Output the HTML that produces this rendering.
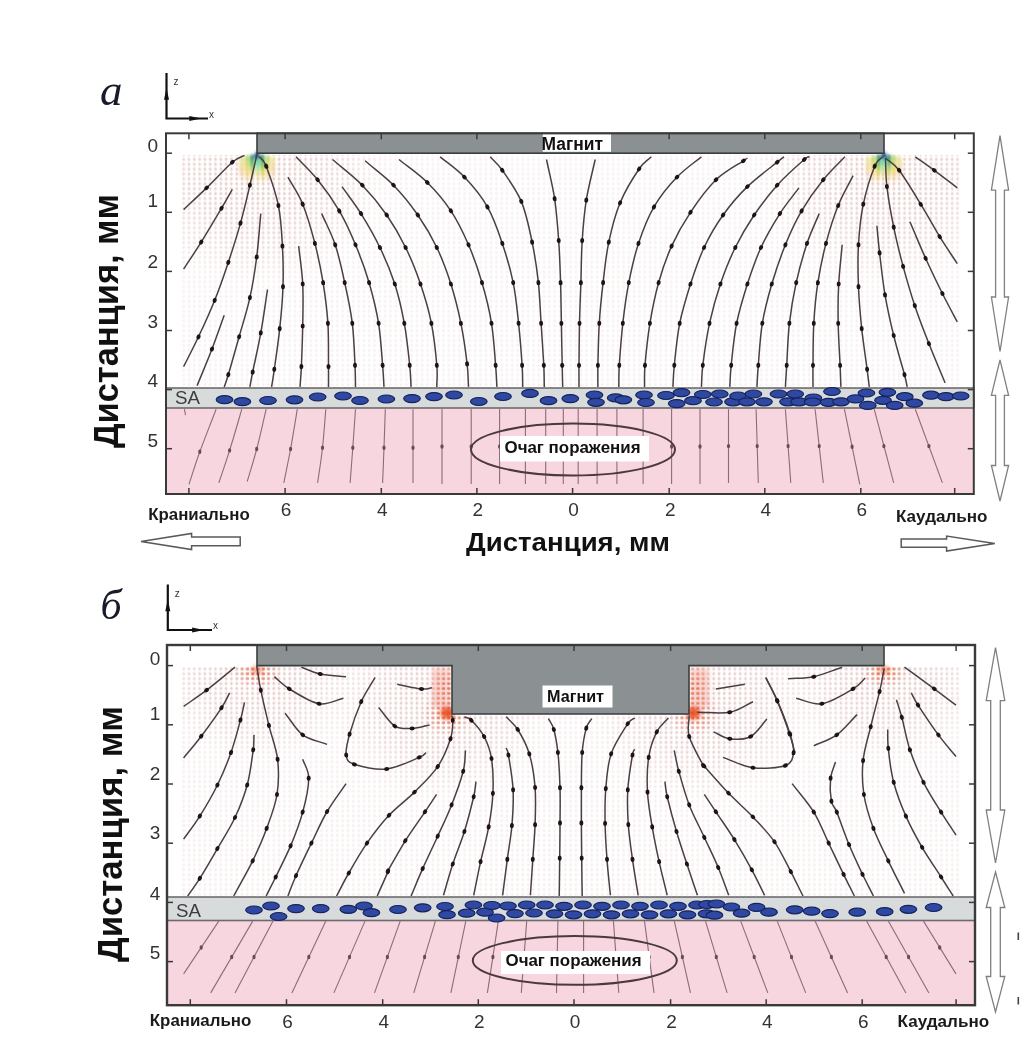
<!DOCTYPE html><html><head><meta charset="utf-8"><title>Figure</title><style>html,body{margin:0;padding:0;background:#fff;}body{width:1034px;height:1057px;overflow:hidden;position:relative;}svg{position:absolute;left:0;top:0;filter:blur(0.55px);}</style></head><body><svg width="1034" height="1057" viewBox="0 0 1034 1057"><rect width="1034" height="1057" fill="#ffffff"/><defs><pattern id="qv" x="181" y="0" width="5.3" height="4.9" patternUnits="userSpaceOnUse"><rect x="1.5" y="1.5" width="2.4" height="2.0" fill="#d2a6a2"/><rect x="2.2" y="0.4" width="1" height="4.2" fill="#e8cdc9"/></pattern><pattern id="qr" x="181" y="0" width="5.3" height="4.9" patternUnits="userSpaceOnUse"><rect x="1.2" y="1.4" width="3.2" height="2.3" fill="#e8603a"/></pattern><pattern id="qy" x="181" y="0" width="5.3" height="4.9" patternUnits="userSpaceOnUse"><rect x="1.4" y="0.4" width="2.4" height="4.2" fill="#f2d060"/></pattern><linearGradient id="fadeA" x1="0" y1="0" x2="0" y2="1"><stop offset="0" stop-color="#fff" stop-opacity="0.95"/><stop offset="0.45" stop-color="#fff" stop-opacity="0.55"/><stop offset="1" stop-color="#fff" stop-opacity="0.3"/></linearGradient><radialGradient id="hot" cx="0.5" cy="0.5" r="0.5"><stop offset="0" stop-color="#fff" stop-opacity="1"/><stop offset="0.5" stop-color="#fff" stop-opacity="0.55"/><stop offset="1" stop-color="#fff" stop-opacity="0"/></radialGradient><radialGradient id="grn" cx="0.5" cy="0.3" r="0.6"><stop offset="0" stop-color="#30c0b0" stop-opacity="0.95"/><stop offset="0.45" stop-color="#50cc60" stop-opacity="0.8"/><stop offset="1" stop-color="#90dd60" stop-opacity="0"/></radialGradient><radialGradient id="cf" cx="0.5" cy="0.5" r="0.5"><stop offset="0" stop-color="#fff" stop-opacity="0.85"/><stop offset="0.55" stop-color="#fff" stop-opacity="0.55"/><stop offset="1" stop-color="#fff" stop-opacity="0"/></radialGradient><mask id="mfadeA" maskUnits="userSpaceOnUse" x="0" y="0" width="1034" height="1057"><rect x="180" y="155" width="780" height="233" fill="#fff" fill-opacity="0.22"/><rect x="180" y="667" width="780" height="230" fill="#fff" fill-opacity="0.25"/><ellipse cx="257" cy="165" rx="130" ry="120" fill="url(#cf)"/><ellipse cx="884" cy="165" rx="130" ry="120" fill="url(#cf)"/><ellipse cx="257" cy="672" rx="100" ry="90" fill="url(#cf)"/><ellipse cx="884" cy="672" rx="100" ry="90" fill="url(#cf)"/><ellipse cx="440" cy="700" rx="110" ry="100" fill="url(#cf)"/><ellipse cx="701" cy="700" rx="110" ry="100" fill="url(#cf)"/></mask><mask id="mhot" maskUnits="userSpaceOnUse" x="0" y="0" width="1034" height="1057"><ellipse cx="257" cy="672" rx="24" ry="16" fill="url(#hot)"/><ellipse cx="884" cy="672" rx="24" ry="16" fill="url(#hot)"/><ellipse cx="447" cy="714" rx="26" ry="22" fill="url(#hot)"/><ellipse cx="694" cy="714" rx="26" ry="22" fill="url(#hot)"/><ellipse cx="446" cy="688" rx="16" ry="26" fill="url(#hot)"/><ellipse cx="695" cy="688" rx="16" ry="26" fill="url(#hot)"/></mask><mask id="mhoty" maskUnits="userSpaceOnUse" x="0" y="0" width="1034" height="1057"><ellipse cx="257" cy="168" rx="19" ry="17" fill="url(#hot)"/><ellipse cx="884" cy="168" rx="19" ry="17" fill="url(#hot)"/></mask></defs><rect x="166" y="408" width="807.8" height="86" fill="#f7d6e0"/><rect x="166" y="388" width="807.8" height="20" fill="#d8dbdc" stroke="#6e6a6c" stroke-width="1.6"/><text x="175" y="404" font-family="'Liberation Sans', sans-serif" font-size="19" fill="#3c3c3c" textLength="25" lengthAdjust="spacingAndGlyphs">SA</text><rect x="167" y="920.5" width="808" height="84.70000000000005" fill="#f7d6e0"/><rect x="167" y="897" width="808" height="23.5" fill="#d8dbdc" stroke="#6e6a6c" stroke-width="1.6"/><text x="176" y="916.5" font-family="'Liberation Sans', sans-serif" font-size="19" fill="#3c3c3c" textLength="25" lengthAdjust="spacingAndGlyphs">SA</text><rect x="180" y="155" width="780" height="233" fill="url(#qv)" mask="url(#mfadeA)"/><rect x="180" y="667" width="780" height="230" fill="url(#qv)" mask="url(#mfadeA)"/><rect x="180" y="667" width="780" height="230" fill="url(#qr)" mask="url(#mhot)"/><rect x="180" y="150" width="780" height="60" fill="url(#qy)" mask="url(#mhoty)"/><linearGradient id="bC" x1="0" y1="0" x2="0" y2="1"><stop offset="0" stop-color="#1f4f9a"/><stop offset="0.25" stop-color="#50c8b8"/><stop offset="0.55" stop-color="#a8e8b0"/><stop offset="1" stop-color="#f0e0b0" stop-opacity="0"/></linearGradient><linearGradient id="bG" x1="0" y1="0" x2="0" y2="1"><stop offset="0" stop-color="#2a8a70"/><stop offset="0.3" stop-color="#4cc060"/><stop offset="0.6" stop-color="#d8d860"/><stop offset="1" stop-color="#f0c890" stop-opacity="0"/></linearGradient><linearGradient id="bY" x1="0" y1="0" x2="0" y2="1"><stop offset="0" stop-color="#b0dc70"/><stop offset="0.45" stop-color="#f0dc70"/><stop offset="1" stop-color="#f4c8a0" stop-opacity="0"/></linearGradient><linearGradient id="bO" x1="0" y1="0" x2="0" y2="1"><stop offset="0" stop-color="#f0e8a0"/><stop offset="0.5" stop-color="#f4d8a8"/><stop offset="1" stop-color="#f4d0b0" stop-opacity="0"/></linearGradient><filter id="blr" x="-30%" y="-30%" width="160%" height="160%"><feGaussianBlur stdDeviation="1.5"/></filter><g filter="url(#blr)"><rect x="254.8" y="153" width="4.4" height="26" fill="url(#bC)"/><rect x="249.7" y="155" width="4" height="27" fill="url(#bG)"/><rect x="260.3" y="155" width="4" height="27" fill="url(#bG)"/><rect x="244.4" y="156" width="4" height="28" fill="url(#bY)"/><rect x="265.6" y="156" width="4" height="28" fill="url(#bY)"/><rect x="239.1" y="157" width="4" height="24" fill="url(#bO)"/><rect x="270.9" y="157" width="4" height="24" fill="url(#bO)"/><path d="M257 151 L253.5 158 L260.5 158 Z" fill="#1d3f8a"/><rect x="881.8" y="153" width="4.4" height="26" fill="url(#bC)"/><rect x="876.7" y="155" width="4" height="27" fill="url(#bG)"/><rect x="887.3" y="155" width="4" height="27" fill="url(#bG)"/><rect x="871.4" y="156" width="4" height="28" fill="url(#bY)"/><rect x="892.6" y="156" width="4" height="28" fill="url(#bY)"/><rect x="866.1" y="157" width="4" height="24" fill="url(#bO)"/><rect x="897.9" y="157" width="4" height="24" fill="url(#bO)"/><path d="M884 151 L880.5 158 L887.5 158 Z" fill="#1d3f8a"/></g><filter id="blr2" x="-50%" y="-50%" width="200%" height="200%"><feGaussianBlur stdDeviation="2.2"/></filter><g filter="url(#blr2)"><ellipse cx="447.5" cy="713" rx="7" ry="6.5" fill="#ea4a1c" fill-opacity="0.9"/><ellipse cx="693.5" cy="713" rx="7" ry="6.5" fill="#ea4a1c" fill-opacity="0.9"/><ellipse cx="257" cy="670" rx="6" ry="4.5" fill="#ea4a1c" fill-opacity="0.45"/><ellipse cx="884" cy="670" rx="6" ry="4.5" fill="#ea4a1c" fill-opacity="0.45"/><rect x="432" y="668" width="18" height="40" fill="#ee8a78" fill-opacity="0.35"/><rect x="691" y="668" width="18" height="40" fill="#ee8a78" fill-opacity="0.35"/></g><path d="M184.4 409.2L185.5 415.2" fill="none" stroke="#8c6c78" stroke-width="1.1"/><path d="M216.1 409.2C210.7 423.4 204.4 439.3 199.8 451.8C195.3 464.3 192.6 473.4 189.0 484.3" fill="none" stroke="#8c6c78" stroke-width="1.1"/><path d="M241.8 409.2C237.8 423.0 233.5 438.1 229.6 450.4C225.8 462.7 222.4 472.1 218.8 482.9" fill="none" stroke="#8c6c78" stroke-width="1.1"/><path d="M266.2 409.2C263.0 422.5 259.9 437.0 256.7 449.0C253.6 461.1 250.4 470.7 247.2 481.5" fill="none" stroke="#8c6c78" stroke-width="1.1"/><path d="M297.3 409.2C295.1 422.5 292.8 436.8 290.6 449.0C288.3 461.3 286.0 471.6 283.8 482.9" fill="none" stroke="#8c6c78" stroke-width="1.1"/><path d="M325.8 409.2C324.7 422.1 323.9 435.4 322.5 447.7C321.2 460.0 319.3 471.2 317.6 482.9" fill="none" stroke="#8c6c78" stroke-width="1.1"/><path d="M355.5 409.2C354.6 422.1 353.7 435.4 352.8 447.7C351.9 460.0 351.0 471.2 350.1 482.9" fill="none" stroke="#8c6c78" stroke-width="1.1"/><path d="M385.3 409.2C384.9 422.1 384.4 435.4 384.0 447.7C383.5 460.0 383.1 471.2 382.6 482.9" fill="none" stroke="#8c6c78" stroke-width="1.1"/><path d="M413.0 409.2C413.0 422.1 413.0 435.4 413.0 447.7C413.0 460.0 413.0 471.2 413.0 482.9" fill="none" stroke="#8c6c78" stroke-width="1.1"/><path d="M442.0 409.0L442.0 484.0" fill="none" stroke="#8c6c78" stroke-width="1.1"/><path d="M471.2 409.0L471.2 484.0" fill="none" stroke="#8c6c78" stroke-width="1.1"/><path d="M499.6 409.0L499.6 484.0" fill="none" stroke="#8c6c78" stroke-width="1.1"/><path d="M525.4 409.0L525.4 484.0" fill="none" stroke="#8c6c78" stroke-width="1.1"/><path d="M545.7 409.0L545.7 484.0" fill="none" stroke="#8c6c78" stroke-width="1.1"/><path d="M563.3 409.0L563.3 484.0" fill="none" stroke="#8c6c78" stroke-width="1.1"/><path d="M578.2 409.0L578.2 484.0" fill="none" stroke="#8c6c78" stroke-width="1.1"/><path d="M597.1 409.0L597.1 484.0" fill="none" stroke="#8c6c78" stroke-width="1.1"/><path d="M616.9 409.0L616.9 484.0" fill="none" stroke="#8c6c78" stroke-width="1.1"/><path d="M643.1 409.0L643.1 484.0" fill="none" stroke="#8c6c78" stroke-width="1.1"/><path d="M671.6 409.0L671.6 484.0" fill="none" stroke="#8c6c78" stroke-width="1.1"/><path d="M700.0 409.0L700.0 484.0" fill="none" stroke="#8c6c78" stroke-width="1.1"/><path d="M728.5 409.2L728.5 482.9" fill="none" stroke="#8c6c78" stroke-width="1.1"/><path d="M756.1 409.2L758.3 482.9" fill="none" stroke="#8c6c78" stroke-width="1.1"/><path d="M785.4 409.2L790.8 482.9" fill="none" stroke="#8c6c78" stroke-width="1.1"/><path d="M815.1 409.2L823.3 482.9" fill="none" stroke="#8c6c78" stroke-width="1.1"/><path d="M844.4 409.2L859.8 484.3" fill="none" stroke="#8c6c78" stroke-width="1.1"/><path d="M874.2 409.2L893.7 482.9" fill="none" stroke="#8c6c78" stroke-width="1.1"/><path d="M915.3 409.2L942.4 482.9" fill="none" stroke="#8c6c78" stroke-width="1.1"/><path d="M183.6 209.6C191.3 202.4 198.5 195.8 206.6 187.9C214.7 180.0 226.0 167.6 232.3 162.2C238.7 156.8 240.5 157.7 244.5 155.4" fill="none" stroke="#4a3f45" stroke-width="1.5"/><path d="M183.6 269.1C189.5 260.1 194.9 252.2 201.2 242.1C207.5 231.9 216.3 217.0 221.5 208.2C226.7 199.4 228.7 195.6 232.3 189.3" fill="none" stroke="#4a3f45" stroke-width="1.5"/><path d="M183.6 366.6C188.6 356.7 193.3 347.9 198.5 336.8C203.7 325.8 209.8 312.7 214.7 300.3C219.7 287.9 224.0 275.2 228.3 262.4C232.6 249.5 236.9 236.0 240.5 223.1C244.1 210.2 247.2 196.7 249.9 185.2C252.7 173.7 254.6 164.4 257.0 154.1" fill="none" stroke="#4a3f45" stroke-width="1.5"/><path d="M197.1 385.6C202.1 373.4 207.5 360.8 212.0 349.0C216.5 337.3 220.2 326.5 224.2 315.2" fill="none" stroke="#4a3f45" stroke-width="1.5"/><path d="M224.2 386.9C225.6 382.9 225.8 383.1 228.3 374.7C230.8 366.4 235.5 349.7 239.1 336.8C242.7 324.0 247.0 310.9 249.9 297.6C252.9 284.3 254.9 270.9 256.7 257.0C258.5 243.0 259.4 228.1 260.8 213.6" fill="none" stroke="#4a3f45" stroke-width="1.5"/><path d="M249.9 386.9C250.8 382.0 250.8 381.1 252.7 372.0C254.5 363.0 258.3 346.5 260.8 332.8C263.3 319.0 265.3 303.9 267.5 289.5" fill="none" stroke="#4a3f45" stroke-width="1.5"/><path d="M271.6 386.9C272.5 381.1 273.0 379.0 274.3 369.3C275.7 359.6 278.3 342.5 279.7 328.7C281.2 315.0 282.5 300.5 283.0 286.7C283.4 273.0 283.2 259.7 282.4 246.1C281.7 232.6 281.1 218.8 278.4 205.5C275.7 192.2 269.3 174.4 266.2 166.2C263.0 158.1 261.7 159.9 259.4 156.8" fill="none" stroke="#4a3f45" stroke-width="1.5"/><path d="M300.0 386.9C300.5 380.2 300.9 376.8 301.4 366.6C301.8 356.5 302.5 339.8 302.7 326.0C303.0 312.2 303.4 297.4 302.7 284.0C302.1 270.7 300.0 258.8 298.7 246.1" fill="none" stroke="#4a3f45" stroke-width="1.5"/><path d="M328.5 386.9C328.5 380.2 328.6 377.2 328.5 366.6C328.4 356.0 328.8 337.3 327.9 323.3C327.0 309.3 325.2 296.0 323.1 282.7C320.9 269.4 318.3 256.5 314.9 243.4C311.5 230.3 307.3 215.2 302.7 204.2C298.2 193.1 292.8 186.1 287.9 177.1" fill="none" stroke="#4a3f45" stroke-width="1.5"/><path d="M355.5 386.9C355.4 379.7 355.5 375.9 355.0 365.3C354.5 354.7 354.0 337.1 352.3 323.3C350.6 309.5 347.6 295.8 344.7 282.7C341.9 269.6 339.1 256.3 335.2 244.8C331.4 233.3 326.2 224.0 321.7 213.6" fill="none" stroke="#4a3f45" stroke-width="1.5"/><path d="M384.0 386.9C383.5 379.7 383.5 375.9 382.6 365.3C381.7 354.7 380.8 337.1 378.6 323.3C376.3 309.5 372.9 295.8 369.1 282.7C365.3 269.6 360.5 256.7 355.5 244.8C350.6 232.8 345.6 221.8 339.3 210.9C333.0 200.1 324.9 188.8 317.6 179.8C310.4 170.8 303.2 164.4 296.0 156.8" fill="none" stroke="#4a3f45" stroke-width="1.5"/><path d="M411.1 386.9C410.6 379.7 410.8 375.9 409.7 365.3C408.6 354.7 406.8 336.8 404.3 323.3C401.8 309.8 398.9 296.7 394.8 284.0C390.7 271.4 385.6 259.2 379.9 247.5C374.3 235.7 367.3 223.8 361.0 213.6C354.6 203.5 348.3 195.6 342.0 186.6" fill="none" stroke="#4a3f45" stroke-width="1.5"/><path d="M436.8 386.9C436.8 379.7 437.7 375.9 436.8 365.3C435.9 354.7 434.1 336.8 431.4 323.3C428.7 309.8 424.8 296.7 420.5 284.0C416.2 271.4 411.3 259.0 405.6 247.5C400.0 236.0 393.9 225.4 386.7 215.0C379.5 204.6 371.3 194.5 362.3 185.2C353.3 175.9 342.5 168.1 332.5 159.5" fill="none" stroke="#4a3f45" stroke-width="1.5"/><path d="M468.5 386.9C468.0 379.3 468.4 374.5 467.1 363.9C465.9 353.3 463.6 336.6 460.9 323.3C458.2 310.0 454.9 296.7 450.9 284.0C446.9 271.4 442.3 259.0 436.8 247.5C431.3 236.0 425.0 225.4 417.8 215.0C410.6 204.6 402.3 194.2 393.5 185.2C384.7 176.2 374.5 169.0 365.0 160.8" fill="none" stroke="#4a3f45" stroke-width="1.5"/><path d="M496.9 386.9C496.5 379.7 496.5 375.9 495.6 365.3C494.7 354.7 493.8 337.1 491.5 323.3C489.3 309.5 485.9 295.8 482.0 282.7C478.2 269.6 473.7 256.7 468.5 244.8C463.3 232.8 457.8 221.3 450.9 210.9C444.0 200.5 436.0 191.1 427.3 182.5C418.6 173.9 408.4 167.1 398.9 159.5" fill="none" stroke="#4a3f45" stroke-width="1.5"/><path d="M522.7 386.9C522.5 379.7 522.8 375.9 522.1 365.3C521.4 354.7 520.1 337.1 518.6 323.3C517.1 309.5 515.9 296.0 513.2 282.7C510.5 269.4 506.6 256.1 502.3 243.4C498.1 230.8 493.8 217.9 487.4 206.9C481.1 195.8 472.3 185.4 464.4 177.1C456.5 168.7 448.2 163.5 440.1 156.8" fill="none" stroke="#4a3f45" stroke-width="1.5"/><path d="M544.3 386.9C544.1 379.7 544.3 375.9 543.8 365.3C543.2 354.7 542.0 337.1 541.1 323.3C540.2 309.5 539.8 296.2 538.4 282.7C536.9 269.1 535.0 255.6 532.1 242.1C529.3 228.5 526.3 213.4 521.3 201.4C516.3 189.5 507.5 177.8 502.3 170.3C497.2 162.9 494.2 161.3 490.2 156.8" fill="none" stroke="#4a3f45" stroke-width="1.5"/><path d="M562.7 386.9C562.5 379.7 562.4 375.9 562.2 365.3C562.0 354.7 561.6 337.1 561.4 323.3C561.1 309.5 561.0 296.4 560.6 282.7C560.1 268.9 559.7 254.7 558.7 240.7C557.7 226.7 556.6 212.3 554.6 198.7C552.6 185.2 549.2 172.6 546.5 159.5" fill="none" stroke="#4a3f45" stroke-width="1.5"/><path d="M579.0 386.9C579.0 379.7 578.9 375.9 579.0 365.3C579.1 354.7 579.2 337.1 579.5 323.3C579.8 309.5 580.4 296.4 580.9 282.7C581.3 268.9 581.3 254.5 582.2 240.7C583.1 226.9 584.1 213.6 586.3 200.1C588.5 186.6 592.2 173.0 595.2 159.5" fill="none" stroke="#4a3f45" stroke-width="1.5"/><path d="M597.9 386.9C597.9 379.7 597.7 375.9 597.9 365.3C598.2 354.7 598.4 337.1 599.3 323.3C600.1 309.5 601.5 296.2 603.1 282.7C604.7 269.1 605.9 255.4 608.8 242.1C611.6 228.8 615.1 215.0 620.1 202.8C625.2 190.6 633.9 176.6 639.1 169.0C644.3 161.3 647.2 160.8 651.3 156.8" fill="none" stroke="#4a3f45" stroke-width="1.5"/><path d="M618.8 386.9C619.0 379.7 618.6 375.9 619.3 365.3C620.0 354.7 621.3 337.1 622.8 323.3C624.4 309.5 626.2 296.0 628.8 282.7C631.4 269.4 634.3 256.1 638.5 243.4C642.7 230.8 647.6 217.9 654.0 206.9C660.4 195.8 669.1 185.4 677.0 177.1C684.9 168.7 693.2 163.5 701.4 156.8" fill="none" stroke="#4a3f45" stroke-width="1.5"/><path d="M644.5 386.9C644.7 379.7 644.1 375.9 645.0 365.3C645.9 354.7 647.7 337.1 649.9 323.3C652.2 309.5 655.0 295.5 658.6 282.7C662.2 269.8 666.3 257.9 671.6 246.1C676.9 234.4 683.1 223.3 690.5 212.3C697.9 201.2 707.2 188.4 716.0 179.8C724.8 171.2 738.2 164.4 743.4 160.8C748.6 157.2 746.1 159.0 747.4 158.1" fill="none" stroke="#4a3f45" stroke-width="1.5"/><path d="M672.9 386.9C673.4 379.7 673.2 375.9 674.3 365.3C675.4 354.7 677.0 336.8 679.7 323.3C682.4 309.8 686.5 296.7 690.5 284.0C694.6 271.4 698.7 259.0 704.1 247.5C709.5 236.0 715.8 225.1 723.1 215.0C730.3 204.8 738.4 195.4 747.4 186.6C756.5 177.8 771.1 167.1 777.2 162.2C783.3 157.2 781.7 158.6 784.0 156.8" fill="none" stroke="#4a3f45" stroke-width="1.5"/><path d="M701.4 386.9C701.9 379.7 701.4 375.9 702.8 365.3C704.1 354.7 706.6 336.8 709.5 323.3C712.5 309.8 716.1 296.7 720.4 284.0C724.7 271.4 729.6 259.0 735.3 247.5C740.9 236.0 747.2 225.4 754.2 215.0C761.2 204.6 768.9 194.5 777.2 185.2C785.6 175.9 798.9 164.2 804.3 159.5C809.7 154.7 807.9 157.7 809.7 156.8" fill="none" stroke="#4a3f45" stroke-width="1.5"/><path d="M729.8 386.9C730.3 379.7 730.1 375.9 731.2 365.3C732.3 354.7 733.9 336.8 736.6 323.3C739.3 309.8 743.4 296.7 747.4 284.0C751.5 271.4 755.6 259.2 761.0 247.5C766.4 235.7 773.6 223.6 779.9 213.6C786.3 203.7 792.6 196.5 798.9 187.9" fill="none" stroke="#4a3f45" stroke-width="1.5"/><path d="M756.9 386.9C757.4 379.7 757.4 375.9 758.3 365.3C759.2 354.7 760.1 336.8 762.3 323.3C764.6 309.8 768.0 297.1 771.8 284.0C775.7 270.9 780.4 257.0 785.4 244.8C790.3 232.6 795.3 221.8 801.6 210.9C807.9 200.1 816.0 188.8 823.3 179.8C830.5 170.8 837.7 164.4 844.9 156.8" fill="none" stroke="#4a3f45" stroke-width="1.5"/><path d="M785.4 386.9C785.8 379.7 786.0 375.9 786.7 365.3C787.4 354.7 787.8 337.1 789.4 323.3C791.0 309.5 793.3 296.0 796.2 282.7C799.1 269.4 803.2 254.9 807.0 243.4C810.9 231.9 815.1 223.6 819.2 213.6" fill="none" stroke="#4a3f45" stroke-width="1.5"/><path d="M813.0 386.9C813.0 379.7 812.8 375.9 813.0 365.3C813.1 354.7 813.0 337.1 813.8 323.3C814.6 309.5 815.8 296.0 817.9 282.7C819.9 269.4 822.6 256.3 826.0 243.4C829.4 230.6 833.6 216.8 838.2 205.5C842.7 194.2 848.1 185.7 853.1 175.7" fill="none" stroke="#4a3f45" stroke-width="1.5"/><path d="M840.9 386.9C840.6 379.7 840.5 375.9 840.1 365.3C839.6 354.7 838.4 336.8 838.2 323.3C837.9 309.8 838.0 297.1 838.7 284.0C839.4 270.9 841.0 257.9 842.2 244.8" fill="none" stroke="#4a3f45" stroke-width="1.5"/><path d="M869.3 386.9C868.6 381.1 868.4 379.0 867.1 369.3C865.9 359.6 863.2 342.5 861.7 328.7C860.3 315.0 859.0 300.7 858.5 286.7C857.9 272.8 857.7 258.5 858.5 244.8C859.3 231.0 860.6 217.2 863.3 204.2C866.1 191.1 871.5 174.1 874.7 166.2C878.0 158.3 880.1 159.9 882.8 156.8" fill="none" stroke="#4a3f45" stroke-width="1.5"/><path d="M907.2 386.9C906.3 382.9 906.8 383.3 904.5 374.7C902.2 366.2 896.9 348.8 893.7 335.5C890.4 322.2 887.4 308.6 885.0 294.9C882.7 281.1 880.9 264.4 879.6 252.9C878.2 241.4 877.8 234.8 876.9 225.8" fill="none" stroke="#4a3f45" stroke-width="1.5"/><path d="M945.1 382.9C939.7 369.8 933.9 356.5 928.9 343.6C923.8 330.7 919.1 318.6 914.8 305.7C910.5 292.8 906.7 279.5 903.1 266.4C899.6 253.3 896.4 240.5 893.7 227.2C891.0 213.9 888.3 198.1 886.9 186.6C885.5 175.0 886.0 167.6 885.5 158.1" fill="none" stroke="#4a3f45" stroke-width="1.5"/><path d="M957.3 321.9C952.3 312.5 947.7 304.1 942.4 293.5C937.1 282.9 931.0 270.3 925.6 258.3C920.2 246.4 915.2 233.9 909.9 221.8" fill="none" stroke="#4a3f45" stroke-width="1.5"/><path d="M957.3 263.7C951.4 254.7 945.8 246.6 939.7 236.7C933.6 226.7 927.5 215.2 920.7 204.2C914.0 193.1 905.0 178.0 899.1 170.3C893.2 162.6 890.1 162.2 885.5 158.1" fill="none" stroke="#4a3f45" stroke-width="1.5"/><path d="M957.3 187.9C949.6 182.0 941.3 175.5 934.3 170.3C927.3 165.1 921.7 161.3 915.3 156.8" fill="none" stroke="#4a3f45" stroke-width="1.5"/><ellipse cx="206.6" cy="187.9" rx="2.6" ry="2.0" transform="rotate(-44 206.6 187.9)" fill="#1e1418"/><ellipse cx="232.3" cy="162.2" rx="2.6" ry="2.0" transform="rotate(-41 232.3 162.2)" fill="#1e1418"/><ellipse cx="201.2" cy="242.1" rx="2.6" ry="2.0" transform="rotate(-58 201.2 242.1)" fill="#1e1418"/><ellipse cx="221.5" cy="208.2" rx="2.6" ry="2.0" transform="rotate(-59 221.5 208.2)" fill="#1e1418"/><ellipse cx="198.5" cy="336.8" rx="2.6" ry="2.0" transform="rotate(-65 198.5 336.8)" fill="#1e1418"/><ellipse cx="214.7" cy="300.3" rx="2.6" ry="2.0" transform="rotate(-68 214.7 300.3)" fill="#1e1418"/><ellipse cx="228.3" cy="262.4" rx="2.6" ry="2.0" transform="rotate(-72 228.3 262.4)" fill="#1e1418"/><ellipse cx="240.5" cy="223.1" rx="2.6" ry="2.0" transform="rotate(-74 240.5 223.1)" fill="#1e1418"/><ellipse cx="249.9" cy="185.2" rx="2.6" ry="2.0" transform="rotate(-77 249.9 185.2)" fill="#1e1418"/><ellipse cx="212.0" cy="349.0" rx="2.6" ry="2.0" transform="rotate(-69 212.0 349.0)" fill="#1e1418"/><ellipse cx="228.3" cy="374.7" rx="2.6" ry="2.0" transform="rotate(-73 228.3 374.7)" fill="#1e1418"/><ellipse cx="239.1" cy="336.8" rx="2.6" ry="2.0" transform="rotate(-74 239.1 336.8)" fill="#1e1418"/><ellipse cx="249.9" cy="297.6" rx="2.6" ry="2.0" transform="rotate(-78 249.9 297.6)" fill="#1e1418"/><ellipse cx="256.7" cy="257.0" rx="2.6" ry="2.0" transform="rotate(-83 256.7 257.0)" fill="#1e1418"/><ellipse cx="252.7" cy="372.0" rx="2.6" ry="2.0" transform="rotate(-79 252.7 372.0)" fill="#1e1418"/><ellipse cx="260.8" cy="332.8" rx="2.6" ry="2.0" transform="rotate(-80 260.8 332.8)" fill="#1e1418"/><ellipse cx="274.3" cy="369.3" rx="2.6" ry="2.0" transform="rotate(-82 274.3 369.3)" fill="#1e1418"/><ellipse cx="279.7" cy="328.7" rx="2.6" ry="2.0" transform="rotate(-84 279.7 328.7)" fill="#1e1418"/><ellipse cx="283.0" cy="286.7" rx="2.6" ry="2.0" transform="rotate(-88 283.0 286.7)" fill="#1e1418"/><ellipse cx="282.4" cy="246.1" rx="2.6" ry="2.0" transform="rotate(-93 282.4 246.1)" fill="#1e1418"/><ellipse cx="278.4" cy="205.5" rx="2.6" ry="2.0" transform="rotate(-101 278.4 205.5)" fill="#1e1418"/><ellipse cx="266.2" cy="166.2" rx="2.6" ry="2.0" transform="rotate(-111 266.2 166.2)" fill="#1e1418"/><ellipse cx="301.4" cy="366.6" rx="2.6" ry="2.0" transform="rotate(-87 301.4 366.6)" fill="#1e1418"/><ellipse cx="302.7" cy="326.0" rx="2.6" ry="2.0" transform="rotate(-89 302.7 326.0)" fill="#1e1418"/><ellipse cx="302.7" cy="284.0" rx="2.6" ry="2.0" transform="rotate(-93 302.7 284.0)" fill="#1e1418"/><ellipse cx="328.5" cy="366.6" rx="2.6" ry="2.0" transform="rotate(-90 328.5 366.6)" fill="#1e1418"/><ellipse cx="327.9" cy="323.3" rx="2.6" ry="2.0" transform="rotate(-94 327.9 323.3)" fill="#1e1418"/><ellipse cx="323.1" cy="282.7" rx="2.6" ry="2.0" transform="rotate(-99 323.1 282.7)" fill="#1e1418"/><ellipse cx="314.9" cy="243.4" rx="2.6" ry="2.0" transform="rotate(-105 314.9 243.4)" fill="#1e1418"/><ellipse cx="302.7" cy="204.2" rx="2.6" ry="2.0" transform="rotate(-112 302.7 204.2)" fill="#1e1418"/><ellipse cx="355.0" cy="365.3" rx="2.6" ry="2.0" transform="rotate(-93 355.0 365.3)" fill="#1e1418"/><ellipse cx="352.3" cy="323.3" rx="2.6" ry="2.0" transform="rotate(-97 352.3 323.3)" fill="#1e1418"/><ellipse cx="344.7" cy="282.7" rx="2.6" ry="2.0" transform="rotate(-102 344.7 282.7)" fill="#1e1418"/><ellipse cx="335.2" cy="244.8" rx="2.6" ry="2.0" transform="rotate(-108 335.2 244.8)" fill="#1e1418"/><ellipse cx="382.6" cy="365.3" rx="2.6" ry="2.0" transform="rotate(-95 382.6 365.3)" fill="#1e1418"/><ellipse cx="378.6" cy="323.3" rx="2.6" ry="2.0" transform="rotate(-99 378.6 323.3)" fill="#1e1418"/><ellipse cx="369.1" cy="282.7" rx="2.6" ry="2.0" transform="rotate(-106 369.1 282.7)" fill="#1e1418"/><ellipse cx="355.5" cy="244.8" rx="2.6" ry="2.0" transform="rotate(-113 355.5 244.8)" fill="#1e1418"/><ellipse cx="339.3" cy="210.9" rx="2.6" ry="2.0" transform="rotate(-120 339.3 210.9)" fill="#1e1418"/><ellipse cx="317.6" cy="179.8" rx="2.6" ry="2.0" transform="rotate(-129 317.6 179.8)" fill="#1e1418"/><ellipse cx="409.7" cy="365.3" rx="2.6" ry="2.0" transform="rotate(-96 409.7 365.3)" fill="#1e1418"/><ellipse cx="404.3" cy="323.3" rx="2.6" ry="2.0" transform="rotate(-100 404.3 323.3)" fill="#1e1418"/><ellipse cx="394.8" cy="284.0" rx="2.6" ry="2.0" transform="rotate(-108 394.8 284.0)" fill="#1e1418"/><ellipse cx="379.9" cy="247.5" rx="2.6" ry="2.0" transform="rotate(-116 379.9 247.5)" fill="#1e1418"/><ellipse cx="361.0" cy="213.6" rx="2.6" ry="2.0" transform="rotate(-122 361.0 213.6)" fill="#1e1418"/><ellipse cx="436.8" cy="365.3" rx="2.6" ry="2.0" transform="rotate(-95 436.8 365.3)" fill="#1e1418"/><ellipse cx="431.4" cy="323.3" rx="2.6" ry="2.0" transform="rotate(-101 431.4 323.3)" fill="#1e1418"/><ellipse cx="420.5" cy="284.0" rx="2.6" ry="2.0" transform="rotate(-109 420.5 284.0)" fill="#1e1418"/><ellipse cx="405.6" cy="247.5" rx="2.6" ry="2.0" transform="rotate(-116 405.6 247.5)" fill="#1e1418"/><ellipse cx="386.7" cy="215.0" rx="2.6" ry="2.0" transform="rotate(-125 386.7 215.0)" fill="#1e1418"/><ellipse cx="362.3" cy="185.2" rx="2.6" ry="2.0" transform="rotate(-134 362.3 185.2)" fill="#1e1418"/><ellipse cx="467.1" cy="363.9" rx="2.6" ry="2.0" transform="rotate(-97 467.1 363.9)" fill="#1e1418"/><ellipse cx="460.9" cy="323.3" rx="2.6" ry="2.0" transform="rotate(-101 460.9 323.3)" fill="#1e1418"/><ellipse cx="450.9" cy="284.0" rx="2.6" ry="2.0" transform="rotate(-108 450.9 284.0)" fill="#1e1418"/><ellipse cx="436.8" cy="247.5" rx="2.6" ry="2.0" transform="rotate(-116 436.8 247.5)" fill="#1e1418"/><ellipse cx="417.8" cy="215.0" rx="2.6" ry="2.0" transform="rotate(-125 417.8 215.0)" fill="#1e1418"/><ellipse cx="393.5" cy="185.2" rx="2.6" ry="2.0" transform="rotate(-134 393.5 185.2)" fill="#1e1418"/><ellipse cx="495.6" cy="365.3" rx="2.6" ry="2.0" transform="rotate(-95 495.6 365.3)" fill="#1e1418"/><ellipse cx="491.5" cy="323.3" rx="2.6" ry="2.0" transform="rotate(-99 491.5 323.3)" fill="#1e1418"/><ellipse cx="482.0" cy="282.7" rx="2.6" ry="2.0" transform="rotate(-106 482.0 282.7)" fill="#1e1418"/><ellipse cx="468.5" cy="244.8" rx="2.6" ry="2.0" transform="rotate(-113 468.5 244.8)" fill="#1e1418"/><ellipse cx="450.9" cy="210.9" rx="2.6" ry="2.0" transform="rotate(-123 450.9 210.9)" fill="#1e1418"/><ellipse cx="427.3" cy="182.5" rx="2.6" ry="2.0" transform="rotate(-135 427.3 182.5)" fill="#1e1418"/><ellipse cx="522.1" cy="365.3" rx="2.6" ry="2.0" transform="rotate(-94 522.1 365.3)" fill="#1e1418"/><ellipse cx="518.6" cy="323.3" rx="2.6" ry="2.0" transform="rotate(-96 518.6 323.3)" fill="#1e1418"/><ellipse cx="513.2" cy="282.7" rx="2.6" ry="2.0" transform="rotate(-101 513.2 282.7)" fill="#1e1418"/><ellipse cx="502.3" cy="243.4" rx="2.6" ry="2.0" transform="rotate(-109 502.3 243.4)" fill="#1e1418"/><ellipse cx="487.4" cy="206.9" rx="2.6" ry="2.0" transform="rotate(-120 487.4 206.9)" fill="#1e1418"/><ellipse cx="464.4" cy="177.1" rx="2.6" ry="2.0" transform="rotate(-133 464.4 177.1)" fill="#1e1418"/><ellipse cx="543.8" cy="365.3" rx="2.6" ry="2.0" transform="rotate(-93 543.8 365.3)" fill="#1e1418"/><ellipse cx="541.1" cy="323.3" rx="2.6" ry="2.0" transform="rotate(-94 541.1 323.3)" fill="#1e1418"/><ellipse cx="538.4" cy="282.7" rx="2.6" ry="2.0" transform="rotate(-96 538.4 282.7)" fill="#1e1418"/><ellipse cx="532.1" cy="242.1" rx="2.6" ry="2.0" transform="rotate(-102 532.1 242.1)" fill="#1e1418"/><ellipse cx="521.3" cy="201.4" rx="2.6" ry="2.0" transform="rotate(-113 521.3 201.4)" fill="#1e1418"/><ellipse cx="502.3" cy="170.3" rx="2.6" ry="2.0" transform="rotate(-125 502.3 170.3)" fill="#1e1418"/><ellipse cx="562.2" cy="365.3" rx="2.6" ry="2.0" transform="rotate(-91 562.2 365.3)" fill="#1e1418"/><ellipse cx="561.4" cy="323.3" rx="2.6" ry="2.0" transform="rotate(-91 561.4 323.3)" fill="#1e1418"/><ellipse cx="560.6" cy="282.7" rx="2.6" ry="2.0" transform="rotate(-92 560.6 282.7)" fill="#1e1418"/><ellipse cx="558.7" cy="240.7" rx="2.6" ry="2.0" transform="rotate(-94 558.7 240.7)" fill="#1e1418"/><ellipse cx="554.6" cy="198.7" rx="2.6" ry="2.0" transform="rotate(-99 554.6 198.7)" fill="#1e1418"/><ellipse cx="579.0" cy="365.3" rx="2.6" ry="2.0" transform="rotate(-90 579.0 365.3)" fill="#1e1418"/><ellipse cx="579.5" cy="323.3" rx="2.6" ry="2.0" transform="rotate(-89 579.5 323.3)" fill="#1e1418"/><ellipse cx="580.9" cy="282.7" rx="2.6" ry="2.0" transform="rotate(-88 580.9 282.7)" fill="#1e1418"/><ellipse cx="582.2" cy="240.7" rx="2.6" ry="2.0" transform="rotate(-86 582.2 240.7)" fill="#1e1418"/><ellipse cx="586.3" cy="200.1" rx="2.6" ry="2.0" transform="rotate(-81 586.3 200.1)" fill="#1e1418"/><ellipse cx="597.9" cy="365.3" rx="2.6" ry="2.0" transform="rotate(-89 597.9 365.3)" fill="#1e1418"/><ellipse cx="599.3" cy="323.3" rx="2.6" ry="2.0" transform="rotate(-86 599.3 323.3)" fill="#1e1418"/><ellipse cx="603.1" cy="282.7" rx="2.6" ry="2.0" transform="rotate(-83 603.1 282.7)" fill="#1e1418"/><ellipse cx="608.8" cy="242.1" rx="2.6" ry="2.0" transform="rotate(-78 608.8 242.1)" fill="#1e1418"/><ellipse cx="620.1" cy="202.8" rx="2.6" ry="2.0" transform="rotate(-67 620.1 202.8)" fill="#1e1418"/><ellipse cx="639.1" cy="169.0" rx="2.6" ry="2.0" transform="rotate(-56 639.1 169.0)" fill="#1e1418"/><ellipse cx="619.3" cy="365.3" rx="2.6" ry="2.0" transform="rotate(-86 619.3 365.3)" fill="#1e1418"/><ellipse cx="622.8" cy="323.3" rx="2.6" ry="2.0" transform="rotate(-83 622.8 323.3)" fill="#1e1418"/><ellipse cx="628.8" cy="282.7" rx="2.6" ry="2.0" transform="rotate(-79 628.8 282.7)" fill="#1e1418"/><ellipse cx="638.5" cy="243.4" rx="2.6" ry="2.0" transform="rotate(-72 638.5 243.4)" fill="#1e1418"/><ellipse cx="654.0" cy="206.9" rx="2.6" ry="2.0" transform="rotate(-60 654.0 206.9)" fill="#1e1418"/><ellipse cx="677.0" cy="177.1" rx="2.6" ry="2.0" transform="rotate(-47 677.0 177.1)" fill="#1e1418"/><ellipse cx="645.0" cy="365.3" rx="2.6" ry="2.0" transform="rotate(-85 645.0 365.3)" fill="#1e1418"/><ellipse cx="649.9" cy="323.3" rx="2.6" ry="2.0" transform="rotate(-81 649.9 323.3)" fill="#1e1418"/><ellipse cx="658.6" cy="282.7" rx="2.6" ry="2.0" transform="rotate(-74 658.6 282.7)" fill="#1e1418"/><ellipse cx="671.6" cy="246.1" rx="2.6" ry="2.0" transform="rotate(-66 671.6 246.1)" fill="#1e1418"/><ellipse cx="690.5" cy="212.3" rx="2.6" ry="2.0" transform="rotate(-56 690.5 212.3)" fill="#1e1418"/><ellipse cx="716.0" cy="179.8" rx="2.6" ry="2.0" transform="rotate(-44 716.0 179.8)" fill="#1e1418"/><ellipse cx="743.4" cy="160.8" rx="2.6" ry="2.0" transform="rotate(-35 743.4 160.8)" fill="#1e1418"/><ellipse cx="674.3" cy="365.3" rx="2.6" ry="2.0" transform="rotate(-84 674.3 365.3)" fill="#1e1418"/><ellipse cx="679.7" cy="323.3" rx="2.6" ry="2.0" transform="rotate(-79 679.7 323.3)" fill="#1e1418"/><ellipse cx="690.5" cy="284.0" rx="2.6" ry="2.0" transform="rotate(-72 690.5 284.0)" fill="#1e1418"/><ellipse cx="704.1" cy="247.5" rx="2.6" ry="2.0" transform="rotate(-65 704.1 247.5)" fill="#1e1418"/><ellipse cx="723.1" cy="215.0" rx="2.6" ry="2.0" transform="rotate(-55 723.1 215.0)" fill="#1e1418"/><ellipse cx="747.4" cy="186.6" rx="2.6" ry="2.0" transform="rotate(-44 747.4 186.6)" fill="#1e1418"/><ellipse cx="777.2" cy="162.2" rx="2.6" ry="2.0" transform="rotate(-39 777.2 162.2)" fill="#1e1418"/><ellipse cx="702.8" cy="365.3" rx="2.6" ry="2.0" transform="rotate(-83 702.8 365.3)" fill="#1e1418"/><ellipse cx="709.5" cy="323.3" rx="2.6" ry="2.0" transform="rotate(-78 709.5 323.3)" fill="#1e1418"/><ellipse cx="720.4" cy="284.0" rx="2.6" ry="2.0" transform="rotate(-71 720.4 284.0)" fill="#1e1418"/><ellipse cx="735.3" cy="247.5" rx="2.6" ry="2.0" transform="rotate(-64 735.3 247.5)" fill="#1e1418"/><ellipse cx="754.2" cy="215.0" rx="2.6" ry="2.0" transform="rotate(-56 754.2 215.0)" fill="#1e1418"/><ellipse cx="777.2" cy="185.2" rx="2.6" ry="2.0" transform="rotate(-48 777.2 185.2)" fill="#1e1418"/><ellipse cx="804.3" cy="159.5" rx="2.6" ry="2.0" transform="rotate(-41 804.3 159.5)" fill="#1e1418"/><ellipse cx="731.2" cy="365.3" rx="2.6" ry="2.0" transform="rotate(-84 731.2 365.3)" fill="#1e1418"/><ellipse cx="736.6" cy="323.3" rx="2.6" ry="2.0" transform="rotate(-79 736.6 323.3)" fill="#1e1418"/><ellipse cx="747.4" cy="284.0" rx="2.6" ry="2.0" transform="rotate(-72 747.4 284.0)" fill="#1e1418"/><ellipse cx="761.0" cy="247.5" rx="2.6" ry="2.0" transform="rotate(-65 761.0 247.5)" fill="#1e1418"/><ellipse cx="779.9" cy="213.6" rx="2.6" ry="2.0" transform="rotate(-58 779.9 213.6)" fill="#1e1418"/><ellipse cx="758.3" cy="365.3" rx="2.6" ry="2.0" transform="rotate(-85 758.3 365.3)" fill="#1e1418"/><ellipse cx="762.3" cy="323.3" rx="2.6" ry="2.0" transform="rotate(-81 762.3 323.3)" fill="#1e1418"/><ellipse cx="771.8" cy="284.0" rx="2.6" ry="2.0" transform="rotate(-74 771.8 284.0)" fill="#1e1418"/><ellipse cx="785.4" cy="244.8" rx="2.6" ry="2.0" transform="rotate(-68 785.4 244.8)" fill="#1e1418"/><ellipse cx="801.6" cy="210.9" rx="2.6" ry="2.0" transform="rotate(-60 801.6 210.9)" fill="#1e1418"/><ellipse cx="823.3" cy="179.8" rx="2.6" ry="2.0" transform="rotate(-51 823.3 179.8)" fill="#1e1418"/><ellipse cx="786.7" cy="365.3" rx="2.6" ry="2.0" transform="rotate(-86 786.7 365.3)" fill="#1e1418"/><ellipse cx="789.4" cy="323.3" rx="2.6" ry="2.0" transform="rotate(-83 789.4 323.3)" fill="#1e1418"/><ellipse cx="796.2" cy="282.7" rx="2.6" ry="2.0" transform="rotate(-78 796.2 282.7)" fill="#1e1418"/><ellipse cx="807.0" cy="243.4" rx="2.6" ry="2.0" transform="rotate(-72 807.0 243.4)" fill="#1e1418"/><ellipse cx="813.0" cy="365.3" rx="2.6" ry="2.0" transform="rotate(-89 813.0 365.3)" fill="#1e1418"/><ellipse cx="813.8" cy="323.3" rx="2.6" ry="2.0" transform="rotate(-87 813.8 323.3)" fill="#1e1418"/><ellipse cx="817.9" cy="282.7" rx="2.6" ry="2.0" transform="rotate(-81 817.9 282.7)" fill="#1e1418"/><ellipse cx="826.0" cy="243.4" rx="2.6" ry="2.0" transform="rotate(-75 826.0 243.4)" fill="#1e1418"/><ellipse cx="838.2" cy="205.5" rx="2.6" ry="2.0" transform="rotate(-68 838.2 205.5)" fill="#1e1418"/><ellipse cx="840.1" cy="365.3" rx="2.6" ry="2.0" transform="rotate(-92 840.1 365.3)" fill="#1e1418"/><ellipse cx="838.2" cy="323.3" rx="2.6" ry="2.0" transform="rotate(-91 838.2 323.3)" fill="#1e1418"/><ellipse cx="838.7" cy="284.0" rx="2.6" ry="2.0" transform="rotate(-87 838.7 284.0)" fill="#1e1418"/><ellipse cx="867.1" cy="369.3" rx="2.6" ry="2.0" transform="rotate(-97 867.1 369.3)" fill="#1e1418"/><ellipse cx="861.7" cy="328.7" rx="2.6" ry="2.0" transform="rotate(-96 861.7 328.7)" fill="#1e1418"/><ellipse cx="858.5" cy="286.7" rx="2.6" ry="2.0" transform="rotate(-92 858.5 286.7)" fill="#1e1418"/><ellipse cx="858.5" cy="244.8" rx="2.6" ry="2.0" transform="rotate(-87 858.5 244.8)" fill="#1e1418"/><ellipse cx="863.3" cy="204.2" rx="2.6" ry="2.0" transform="rotate(-78 863.3 204.2)" fill="#1e1418"/><ellipse cx="874.7" cy="166.2" rx="2.6" ry="2.0" transform="rotate(-68 874.7 166.2)" fill="#1e1418"/><ellipse cx="904.5" cy="374.7" rx="2.6" ry="2.0" transform="rotate(-105 904.5 374.7)" fill="#1e1418"/><ellipse cx="893.7" cy="335.5" rx="2.6" ry="2.0" transform="rotate(-104 893.7 335.5)" fill="#1e1418"/><ellipse cx="885.0" cy="294.9" rx="2.6" ry="2.0" transform="rotate(-100 885.0 294.9)" fill="#1e1418"/><ellipse cx="879.6" cy="252.9" rx="2.6" ry="2.0" transform="rotate(-97 879.6 252.9)" fill="#1e1418"/><ellipse cx="928.9" cy="343.6" rx="2.6" ry="2.0" transform="rotate(-111 928.9 343.6)" fill="#1e1418"/><ellipse cx="914.8" cy="305.7" rx="2.6" ry="2.0" transform="rotate(-108 914.8 305.7)" fill="#1e1418"/><ellipse cx="903.1" cy="266.4" rx="2.6" ry="2.0" transform="rotate(-105 903.1 266.4)" fill="#1e1418"/><ellipse cx="893.7" cy="227.2" rx="2.6" ry="2.0" transform="rotate(-101 893.7 227.2)" fill="#1e1418"/><ellipse cx="886.9" cy="186.6" rx="2.6" ry="2.0" transform="rotate(-97 886.9 186.6)" fill="#1e1418"/><ellipse cx="942.4" cy="293.5" rx="2.6" ry="2.0" transform="rotate(-116 942.4 293.5)" fill="#1e1418"/><ellipse cx="925.6" cy="258.3" rx="2.6" ry="2.0" transform="rotate(-114 925.6 258.3)" fill="#1e1418"/><ellipse cx="939.7" cy="236.7" rx="2.6" ry="2.0" transform="rotate(-122 939.7 236.7)" fill="#1e1418"/><ellipse cx="920.7" cy="204.2" rx="2.6" ry="2.0" transform="rotate(-121 920.7 204.2)" fill="#1e1418"/><ellipse cx="899.1" cy="170.3" rx="2.6" ry="2.0" transform="rotate(-127 899.1 170.3)" fill="#1e1418"/><ellipse cx="934.3" cy="170.3" rx="2.6" ry="2.0" transform="rotate(-143 934.3 170.3)" fill="#1e1418"/><ellipse cx="199.8" cy="451.8" rx="1.6" ry="2.2" fill="#6a4a56"/><ellipse cx="229.6" cy="450.4" rx="1.6" ry="2.2" fill="#6a4a56"/><ellipse cx="256.7" cy="449.0" rx="1.6" ry="2.2" fill="#6a4a56"/><ellipse cx="290.6" cy="449.0" rx="1.6" ry="2.2" fill="#6a4a56"/><ellipse cx="322.5" cy="447.7" rx="1.6" ry="2.2" fill="#6a4a56"/><ellipse cx="352.8" cy="447.7" rx="1.6" ry="2.2" fill="#6a4a56"/><ellipse cx="384.0" cy="447.7" rx="1.6" ry="2.2" fill="#6a4a56"/><ellipse cx="413.0" cy="447.7" rx="1.6" ry="2.2" fill="#6a4a56"/><ellipse cx="442.0" cy="446.5" rx="1.6" ry="2.2" fill="#6a4a56"/><ellipse cx="471.2" cy="446.5" rx="1.6" ry="2.2" fill="#6a4a56"/><ellipse cx="499.6" cy="446.5" rx="1.6" ry="2.2" fill="#6a4a56"/><ellipse cx="525.4" cy="446.5" rx="1.6" ry="2.2" fill="#6a4a56"/><ellipse cx="545.7" cy="446.5" rx="1.6" ry="2.2" fill="#6a4a56"/><ellipse cx="563.3" cy="446.5" rx="1.6" ry="2.2" fill="#6a4a56"/><ellipse cx="578.2" cy="446.5" rx="1.6" ry="2.2" fill="#6a4a56"/><ellipse cx="597.1" cy="446.5" rx="1.6" ry="2.2" fill="#6a4a56"/><ellipse cx="616.9" cy="446.5" rx="1.6" ry="2.2" fill="#6a4a56"/><ellipse cx="643.1" cy="446.5" rx="1.6" ry="2.2" fill="#6a4a56"/><ellipse cx="671.6" cy="446.5" rx="1.6" ry="2.2" fill="#6a4a56"/><ellipse cx="700.0" cy="446.5" rx="1.6" ry="2.2" fill="#6a4a56"/><ellipse cx="728.5" cy="446.1" rx="1.6" ry="2.2" fill="#6a4a56"/><ellipse cx="757.2" cy="446.1" rx="1.6" ry="2.2" fill="#6a4a56"/><ellipse cx="788.1" cy="446.1" rx="1.6" ry="2.2" fill="#6a4a56"/><ellipse cx="819.2" cy="446.1" rx="1.6" ry="2.2" fill="#6a4a56"/><ellipse cx="852.1" cy="446.7" rx="1.6" ry="2.2" fill="#6a4a56"/><ellipse cx="883.9" cy="446.1" rx="1.6" ry="2.2" fill="#6a4a56"/><ellipse cx="928.9" cy="446.1" rx="1.6" ry="2.2" fill="#6a4a56"/><path d="M218.8 921.1L183.6 973.9" fill="none" stroke="#8c6c78" stroke-width="1.1"/><path d="M252.7 921.1L210.7 992.9" fill="none" stroke="#8c6c78" stroke-width="1.1"/><path d="M273.0 921.1L235.0 992.9" fill="none" stroke="#8c6c78" stroke-width="1.1"/><path d="M325.8 921.1L291.9 992.9" fill="none" stroke="#8c6c78" stroke-width="1.1"/><path d="M365.0 921.1L333.9 992.9" fill="none" stroke="#8c6c78" stroke-width="1.1"/><path d="M400.2 921.1L374.5 992.9" fill="none" stroke="#8c6c78" stroke-width="1.1"/><path d="M435.4 921.1L413.8 992.9" fill="none" stroke="#8c6c78" stroke-width="1.1"/><path d="M465.8 921.1L450.9 992.9" fill="none" stroke="#8c6c78" stroke-width="1.1"/><path d="M498.3 921.1L487.4 992.9" fill="none" stroke="#8c6c78" stroke-width="1.1"/><path d="M526.7 921.1L521.3 992.9" fill="none" stroke="#8c6c78" stroke-width="1.1"/><path d="M557.9 921.1L556.5 992.9" fill="none" stroke="#8c6c78" stroke-width="1.1"/><path d="M583.6 921.1L583.6 992.9" fill="none" stroke="#8c6c78" stroke-width="1.1"/><path d="M613.4 921.1L618.8 992.9" fill="none" stroke="#8c6c78" stroke-width="1.1"/><path d="M644.5 921.1L654.0 992.9" fill="none" stroke="#8c6c78" stroke-width="1.1"/><path d="M674.3 921.1L690.5 992.9" fill="none" stroke="#8c6c78" stroke-width="1.1"/><path d="M705.5 921.1L727.1 992.9" fill="none" stroke="#8c6c78" stroke-width="1.1"/><path d="M740.7 921.1L767.8 992.9" fill="none" stroke="#8c6c78" stroke-width="1.1"/><path d="M777.2 921.1L805.7 992.9" fill="none" stroke="#8c6c78" stroke-width="1.1"/><path d="M815.1 921.1L847.6 992.9" fill="none" stroke="#8c6c78" stroke-width="1.1"/><path d="M866.6 921.1L905.9 992.9" fill="none" stroke="#8c6c78" stroke-width="1.1"/><path d="M888.3 921.1L928.9 992.9" fill="none" stroke="#8c6c78" stroke-width="1.1"/><path d="M923.5 921.1L956.0 973.9" fill="none" stroke="#8c6c78" stroke-width="1.1"/><path d="M183.6 706.4C191.3 701.0 198.0 696.7 206.6 690.2C215.2 683.7 225.6 674.9 235.0 667.2" fill="none" stroke="#4a3f45" stroke-width="1.5"/><path d="M183.6 757.9C189.5 750.7 194.9 744.6 201.2 736.2C207.5 727.9 216.8 715.0 221.5 707.8C226.2 700.6 226.9 697.9 229.6 692.9" fill="none" stroke="#4a3f45" stroke-width="1.5"/><path d="M183.6 839.1C189.0 831.5 194.2 825.1 199.8 816.1C205.5 807.1 212.3 795.6 217.4 785.0C222.6 774.4 227.2 763.3 231.0 752.5C234.8 741.7 238.2 728.3 240.5 720.0C242.7 711.6 243.2 708.3 244.5 702.4" fill="none" stroke="#4a3f45" stroke-width="1.5"/><path d="M187.7 896.0C191.7 890.1 194.9 886.3 199.8 878.4C204.8 870.5 211.6 858.8 217.4 848.6C223.3 838.5 230.1 828.1 235.0 817.5C240.0 806.9 244.2 796.3 247.2 785.0C250.3 773.7 252.1 758.1 253.2 749.8C254.3 741.4 253.7 739.8 254.0 734.9" fill="none" stroke="#4a3f45" stroke-width="1.5"/><path d="M233.7 896.0C240.0 884.3 247.1 872.1 252.7 860.8C258.2 849.5 262.7 839.4 266.7 828.3C270.8 817.2 275.2 806.0 277.0 794.5C278.8 782.9 278.9 770.8 277.6 759.3C276.2 747.7 271.7 736.9 268.9 725.4C266.1 713.9 262.8 700.1 260.8 690.2C258.7 680.3 258.1 674.0 256.7 665.8" fill="none" stroke="#4a3f45" stroke-width="1.5"/><path d="M266.2 896.0C269.3 889.7 271.6 885.4 275.7 877.0C279.7 868.7 286.0 856.7 290.6 845.9C295.1 835.1 299.7 823.3 302.7 812.1C305.8 800.8 308.7 787.0 308.7 778.2C308.7 769.4 304.7 765.6 302.7 759.3" fill="none" stroke="#4a3f45" stroke-width="1.5"/><path d="M287.9 896.0C290.6 889.2 292.0 884.5 296.0 875.7C299.9 866.9 306.2 853.9 311.4 843.2C316.6 832.5 321.3 821.4 327.1 811.5C332.9 801.6 339.8 792.9 346.1 783.6" fill="none" stroke="#4a3f45" stroke-width="1.5"/><path d="M285.1 713.2C291.0 720.4 295.7 729.7 302.7 734.9C309.7 740.1 319.0 741.2 327.1 744.4" fill="none" stroke="#4a3f45" stroke-width="1.5"/><path d="M274.3 676.7C279.3 680.7 281.8 684.3 289.2 688.8C296.7 693.4 310.0 702.2 319.0 703.7C328.0 705.3 335.2 700.1 343.4 698.3" fill="none" stroke="#4a3f45" stroke-width="1.5"/><path d="M301.4 667.2C307.7 669.4 312.9 672.4 320.3 674.0C327.8 675.5 337.5 675.8 346.1 676.7" fill="none" stroke="#4a3f45" stroke-width="1.5"/><path d="M336.6 896.0C340.7 888.3 343.7 881.8 348.8 873.0C353.8 864.2 360.3 852.7 367.0 843.1C373.7 833.5 381.1 823.8 389.0 815.3C397.0 806.8 406.4 800.2 414.5 792.1C422.7 784.0 431.7 775.5 437.7 766.6C443.7 757.7 448.0 746.5 450.5 738.8C453.0 731.1 452.6 724.1 452.8 720.3C453.0 716.4 452.0 717.2 451.6 715.6" fill="none" stroke="#4a3f45" stroke-width="1.5"/><path d="M377.2 896.0C380.8 887.9 386.3 875.8 388.0 871.6C389.8 867.5 385.0 876.1 387.9 870.9C390.8 865.8 399.1 850.7 405.3 840.8C411.5 831.0 419.8 819.6 425.0 811.8C430.2 804.1 432.7 800.2 436.6 794.4" fill="none" stroke="#4a3f45" stroke-width="1.5"/><path d="M411.1 896.0C414.9 886.9 418.2 878.6 422.7 868.6C427.1 858.7 432.9 846.8 437.7 836.2C442.6 825.5 447.4 815.7 451.6 804.9C455.9 794.1 460.9 780.3 463.2 771.3C465.5 762.2 464.8 757.4 465.5 750.4" fill="none" stroke="#4a3f45" stroke-width="1.5"/><path d="M443.5 895.3C446.6 884.8 449.3 874.6 452.8 864.0C456.3 853.4 460.9 842.7 464.4 831.5C467.9 820.3 471.7 805.1 473.7 796.8C475.6 788.5 475.2 786.7 476.0 781.7" fill="none" stroke="#4a3f45" stroke-width="1.5"/><path d="M473.7 895.3C476.0 884.1 478.1 873.1 480.6 861.7C483.1 850.3 486.7 838.3 488.7 826.9C490.8 815.5 492.4 804.7 492.9 793.3C493.4 781.9 493.0 768.0 491.5 758.5C490.0 749.1 487.4 742.9 484.1 736.5C480.7 730.1 474.6 723.6 471.3 720.3C468.0 717.0 466.7 718.0 464.4 716.8" fill="none" stroke="#4a3f45" stroke-width="1.5"/><path d="M502.6 895.3C504.2 883.3 505.7 870.9 507.3 859.4C508.8 847.8 510.9 837.3 511.9 825.7C512.9 814.1 513.6 801.6 513.1 789.8C512.5 778.0 509.6 762.0 508.4 755.0C507.3 748.1 506.9 750.4 506.1 748.1" fill="none" stroke="#4a3f45" stroke-width="1.5"/><path d="M530.4 895.3C531.2 883.3 532.0 871.1 532.8 859.4C533.5 847.6 534.7 836.6 535.1 824.6C535.5 812.6 536.0 799.3 535.1 787.5C534.1 775.7 532.2 763.5 529.3 753.9C526.4 744.2 521.6 735.7 517.7 729.5C513.8 723.4 510.0 721.0 506.1 716.8" fill="none" stroke="#4a3f45" stroke-width="1.5"/><path d="M375.1 677.4C370.5 685.5 365.5 692.3 361.2 701.7C357.0 711.2 352.1 725.3 349.6 734.2C347.1 743.1 345.4 750.0 346.2 755.0C346.9 760.1 347.5 762.0 354.3 764.3C361.0 766.6 375.9 770.1 386.7 768.9C397.5 767.8 412.6 760.1 419.2 757.4C425.7 754.7 423.8 754.3 426.1 752.7" fill="none" stroke="#4a3f45" stroke-width="1.5"/><path d="M378.6 707.5C384.0 713.7 389.2 722.6 394.8 726.1C400.4 729.5 406.4 728.6 412.2 728.4C418.0 728.2 423.8 726.1 429.6 724.9" fill="none" stroke="#4a3f45" stroke-width="1.5"/><path d="M397.2 684.3C405.3 685.9 415.7 688.4 421.5 689.0C427.3 689.6 428.4 688.2 431.9 687.8" fill="none" stroke="#4a3f45" stroke-width="1.5"/><path d="M559.2 896.0C559.4 883.4 559.6 870.3 559.7 858.1C559.9 845.9 560.0 834.6 560.0 822.9C560.1 811.2 560.4 799.4 560.0 787.7C559.7 775.9 558.9 762.2 557.9 752.5C556.8 742.8 555.4 735.1 553.8 729.5C552.2 723.8 550.2 722.2 548.4 718.6" fill="none" stroke="#4a3f45" stroke-width="1.5"/><path d="M582.2 896.0C582.0 883.4 581.8 870.3 581.7 858.1C581.5 845.9 581.5 834.6 581.4 822.9C581.4 811.2 581.3 799.4 581.4 787.7C581.5 775.9 581.4 762.4 582.2 752.5C583.0 742.6 584.7 733.8 586.3 728.1C587.9 722.5 589.9 721.8 591.7 718.6" fill="none" stroke="#4a3f45" stroke-width="1.5"/><path d="M610.4 895.3C609.3 883.3 607.8 871.3 607.0 859.4C606.1 847.4 605.3 835.2 605.1 823.4C604.9 811.6 604.8 800.2 605.8 788.7C606.8 777.1 607.5 764.7 611.1 753.9C614.8 743.1 623.9 729.7 627.8 723.7C631.8 717.8 632.5 719.9 634.8 718.0" fill="none" stroke="#4a3f45" stroke-width="1.5"/><path d="M638.2 895.3C636.3 883.3 634.1 871.1 632.5 859.4C630.8 847.6 629.1 836.2 628.3 824.6C627.5 813.0 627.1 801.4 627.8 789.8C628.5 778.2 631.3 761.8 632.5 755.0C633.6 748.3 634.0 751.2 634.8 749.2" fill="none" stroke="#4a3f45" stroke-width="1.5"/><path d="M667.2 895.3C664.5 884.1 661.6 873.1 659.1 861.7C656.6 850.3 654.1 838.5 652.2 826.9C650.2 815.3 648.1 803.7 647.5 792.1C646.9 780.5 647.1 767.4 648.7 757.4C650.2 747.3 653.5 738.4 656.8 731.9C660.1 725.3 664.5 722.6 668.4 718.0" fill="none" stroke="#4a3f45" stroke-width="1.5"/><path d="M697.4 895.3C693.9 884.8 690.4 874.6 686.9 864.0C683.4 853.4 679.8 842.7 676.5 831.5C673.2 820.3 669.2 805.1 667.2 796.8C665.3 788.5 665.7 786.7 664.9 781.7" fill="none" stroke="#4a3f45" stroke-width="1.5"/><path d="M728.7 895.3C725.2 886.0 722.3 877.1 718.2 867.5C714.2 857.8 709.1 847.8 704.3 837.3C699.5 826.9 693.5 815.9 689.2 804.9C685.0 793.9 681.3 780.3 678.8 771.3C676.3 762.2 675.7 757.4 674.2 750.4" fill="none" stroke="#4a3f45" stroke-width="1.5"/><path d="M764.6 895.3C760.3 886.8 756.9 879.1 751.8 869.8C746.8 860.5 740.4 849.3 734.4 839.6C728.5 830.0 720.9 819.4 715.9 811.8C710.9 804.3 708.2 800.2 704.3 794.4" fill="none" stroke="#4a3f45" stroke-width="1.5"/><path d="M803.0 896.0C798.9 887.9 795.5 880.7 790.8 871.6C786.0 862.6 780.8 851.0 774.5 841.8C768.2 832.7 760.5 825.1 752.9 816.9C745.2 808.8 736.6 801.6 728.5 793.1C720.4 784.6 708.3 770.6 704.1 766.0C699.9 761.4 705.6 770.4 703.2 765.5C700.7 760.5 691.6 744.8 689.2 736.5C686.9 728.2 689.2 722.6 689.2 715.6" fill="none" stroke="#4a3f45" stroke-width="1.5"/><path d="M722.9 757.4C732.9 760.8 742.6 766.4 753.0 767.8C763.4 769.1 778.7 768.0 785.4 765.5C792.2 763.0 792.8 757.9 793.6 752.7C794.3 747.5 792.8 742.9 790.1 734.2C787.4 725.5 781.4 710.0 777.3 700.6C773.3 691.1 769.6 685.1 765.7 677.4" fill="none" stroke="#4a3f45" stroke-width="1.5"/><path d="M713.6 731.9C719.0 734.2 723.6 738.0 729.8 738.8C736.0 739.6 744.5 739.8 750.7 736.5C756.9 733.2 761.5 724.9 766.9 719.1" fill="none" stroke="#4a3f45" stroke-width="1.5"/><path d="M697.4 712.2C708.2 712.2 720.5 713.9 729.8 712.2C739.1 710.4 745.3 705.2 753.0 701.7" fill="none" stroke="#4a3f45" stroke-width="1.5"/><path d="M715.9 689.0L744.9 684.3" fill="none" stroke="#4a3f45" stroke-width="1.5"/><path d="M792.1 783.6C799.3 793.1 807.7 802.1 813.8 812.1C819.9 822.0 823.7 832.8 828.7 843.2C833.6 853.6 839.3 865.5 843.6 874.3C847.9 883.1 850.8 888.8 854.4 896.0" fill="none" stroke="#4a3f45" stroke-width="1.5"/><path d="M835.5 762.0C833.8 767.4 831.3 771.7 830.6 778.2C829.9 784.7 830.4 795.6 831.4 801.2C832.4 806.9 833.9 804.8 836.8 812.1C839.7 819.3 844.7 834.2 849.0 844.5C853.3 854.9 858.5 865.8 862.5 874.3C866.6 882.9 869.8 888.8 873.4 896.0" fill="none" stroke="#4a3f45" stroke-width="1.5"/><path d="M884.2 668.5C882.7 676.2 881.8 681.9 879.6 691.6C877.3 701.3 873.4 715.2 870.7 726.8C867.9 738.3 864.2 749.3 863.1 760.6C861.9 771.9 862.2 783.2 863.9 794.5C865.6 805.7 869.3 817.2 873.4 828.3C877.4 839.4 883.1 850.0 888.3 860.8C893.4 871.6 899.1 882.5 904.5 893.3" fill="none" stroke="#4a3f45" stroke-width="1.5"/><path d="M887.7 729.5C887.9 735.8 887.3 739.6 888.3 748.4C889.2 757.2 890.7 771.0 893.7 782.3C896.6 793.6 901.1 805.3 905.9 816.1C910.6 826.9 916.2 837.1 922.1 847.3C928.0 857.4 935.9 868.9 941.1 877.0C946.2 885.2 949.2 889.7 953.2 896.0" fill="none" stroke="#4a3f45" stroke-width="1.5"/><path d="M896.4 699.7C898.2 705.5 899.5 708.9 901.8 717.3C904.1 725.6 906.3 738.9 909.9 749.8C913.5 760.6 918.3 771.9 923.5 782.3C928.6 792.6 935.6 803.3 941.1 812.1C946.5 820.9 951.0 827.4 956.0 835.1" fill="none" stroke="#4a3f45" stroke-width="1.5"/><path d="M911.3 692.9C913.5 697.0 913.5 698.1 918.0 705.1C922.6 712.1 932.0 726.3 938.4 734.9C944.7 743.5 950.1 749.3 956.0 756.5" fill="none" stroke="#4a3f45" stroke-width="1.5"/><path d="M904.5 667.2C914.4 674.4 925.7 682.5 934.3 688.8C942.9 695.2 948.7 699.7 956.0 705.1" fill="none" stroke="#4a3f45" stroke-width="1.5"/><path d="M765.9 678.0C769.7 685.7 773.3 691.8 777.2 701.0C781.2 710.3 786.5 725.0 789.4 733.5C792.4 742.1 793.0 746.2 794.8 752.5" fill="none" stroke="#4a3f45" stroke-width="1.5"/><path d="M788.1 678.8C796.6 678.1 804.8 678.6 813.8 676.7C822.8 674.7 832.7 670.3 842.2 667.2" fill="none" stroke="#4a3f45" stroke-width="1.5"/><path d="M796.2 698.3C804.8 700.1 812.4 705.3 821.9 703.7C831.4 702.2 845.8 693.1 853.1 688.8C860.3 684.6 861.2 681.6 865.2 678.0" fill="none" stroke="#4a3f45" stroke-width="1.5"/><path d="M813.8 745.7C821.5 742.1 829.6 740.1 836.8 734.9C844.0 729.7 850.3 721.3 857.1 714.6" fill="none" stroke="#4a3f45" stroke-width="1.5"/><ellipse cx="206.6" cy="690.2" rx="2.6" ry="2.0" transform="rotate(-37 206.6 690.2)" fill="#1e1418"/><ellipse cx="201.2" cy="736.2" rx="2.6" ry="2.0" transform="rotate(-53 201.2 736.2)" fill="#1e1418"/><ellipse cx="221.5" cy="707.8" rx="2.6" ry="2.0" transform="rotate(-57 221.5 707.8)" fill="#1e1418"/><ellipse cx="199.8" cy="816.1" rx="2.6" ry="2.0" transform="rotate(-58 199.8 816.1)" fill="#1e1418"/><ellipse cx="217.4" cy="785.0" rx="2.6" ry="2.0" transform="rotate(-64 217.4 785.0)" fill="#1e1418"/><ellipse cx="231.0" cy="752.5" rx="2.6" ry="2.0" transform="rotate(-70 231.0 752.5)" fill="#1e1418"/><ellipse cx="240.5" cy="720.0" rx="2.6" ry="2.0" transform="rotate(-75 240.5 720.0)" fill="#1e1418"/><ellipse cx="199.8" cy="878.4" rx="2.6" ry="2.0" transform="rotate(-58 199.8 878.4)" fill="#1e1418"/><ellipse cx="217.4" cy="848.6" rx="2.6" ry="2.0" transform="rotate(-60 217.4 848.6)" fill="#1e1418"/><ellipse cx="235.0" cy="817.5" rx="2.6" ry="2.0" transform="rotate(-65 235.0 817.5)" fill="#1e1418"/><ellipse cx="247.2" cy="785.0" rx="2.6" ry="2.0" transform="rotate(-75 247.2 785.0)" fill="#1e1418"/><ellipse cx="253.2" cy="749.8" rx="2.6" ry="2.0" transform="rotate(-82 253.2 749.8)" fill="#1e1418"/><ellipse cx="252.7" cy="860.8" rx="2.6" ry="2.0" transform="rotate(-64 252.7 860.8)" fill="#1e1418"/><ellipse cx="266.7" cy="828.3" rx="2.6" ry="2.0" transform="rotate(-70 266.7 828.3)" fill="#1e1418"/><ellipse cx="277.0" cy="794.5" rx="2.6" ry="2.0" transform="rotate(-81 277.0 794.5)" fill="#1e1418"/><ellipse cx="277.6" cy="759.3" rx="2.6" ry="2.0" transform="rotate(-97 277.6 759.3)" fill="#1e1418"/><ellipse cx="268.9" cy="725.4" rx="2.6" ry="2.0" transform="rotate(-104 268.9 725.4)" fill="#1e1418"/><ellipse cx="260.8" cy="690.2" rx="2.6" ry="2.0" transform="rotate(-102 260.8 690.2)" fill="#1e1418"/><ellipse cx="275.7" cy="877.0" rx="2.6" ry="2.0" transform="rotate(-64 275.7 877.0)" fill="#1e1418"/><ellipse cx="290.6" cy="845.9" rx="2.6" ry="2.0" transform="rotate(-67 290.6 845.9)" fill="#1e1418"/><ellipse cx="302.7" cy="812.1" rx="2.6" ry="2.0" transform="rotate(-75 302.7 812.1)" fill="#1e1418"/><ellipse cx="308.7" cy="778.2" rx="2.6" ry="2.0" transform="rotate(-90 308.7 778.2)" fill="#1e1418"/><ellipse cx="296.0" cy="875.7" rx="2.6" ry="2.0" transform="rotate(-66 296.0 875.7)" fill="#1e1418"/><ellipse cx="311.4" cy="843.2" rx="2.6" ry="2.0" transform="rotate(-64 311.4 843.2)" fill="#1e1418"/><ellipse cx="327.1" cy="811.5" rx="2.6" ry="2.0" transform="rotate(-60 327.1 811.5)" fill="#1e1418"/><ellipse cx="302.7" cy="734.9" rx="2.6" ry="2.0" transform="rotate(37 302.7 734.9)" fill="#1e1418"/><ellipse cx="289.2" cy="688.8" rx="2.6" ry="2.0" transform="rotate(31 289.2 688.8)" fill="#1e1418"/><ellipse cx="319.0" cy="703.7" rx="2.6" ry="2.0" transform="rotate(10 319.0 703.7)" fill="#1e1418"/><ellipse cx="320.3" cy="674.0" rx="2.6" ry="2.0" transform="rotate(12 320.3 674.0)" fill="#1e1418"/><ellipse cx="348.8" cy="873.0" rx="2.6" ry="2.0" transform="rotate(-60 348.8 873.0)" fill="#1e1418"/><ellipse cx="367.0" cy="843.1" rx="2.6" ry="2.0" transform="rotate(-55 367.0 843.1)" fill="#1e1418"/><ellipse cx="389.0" cy="815.3" rx="2.6" ry="2.0" transform="rotate(-47 389.0 815.3)" fill="#1e1418"/><ellipse cx="414.5" cy="792.1" rx="2.6" ry="2.0" transform="rotate(-45 414.5 792.1)" fill="#1e1418"/><ellipse cx="437.7" cy="766.6" rx="2.6" ry="2.0" transform="rotate(-56 437.7 766.6)" fill="#1e1418"/><ellipse cx="450.5" cy="738.8" rx="2.6" ry="2.0" transform="rotate(-72 450.5 738.8)" fill="#1e1418"/><ellipse cx="452.8" cy="720.3" rx="2.6" ry="2.0" transform="rotate(-87 452.8 720.3)" fill="#1e1418"/><ellipse cx="388.0" cy="871.6" rx="2.6" ry="2.0" transform="rotate(-67 388.0 871.6)" fill="#1e1418"/><ellipse cx="387.9" cy="870.9" rx="2.6" ry="2.0" transform="rotate(-61 387.9 870.9)" fill="#1e1418"/><ellipse cx="405.3" cy="840.8" rx="2.6" ry="2.0" transform="rotate(-58 405.3 840.8)" fill="#1e1418"/><ellipse cx="425.0" cy="811.8" rx="2.6" ry="2.0" transform="rotate(-56 425.0 811.8)" fill="#1e1418"/><ellipse cx="422.7" cy="868.6" rx="2.6" ry="2.0" transform="rotate(-66 422.7 868.6)" fill="#1e1418"/><ellipse cx="437.7" cy="836.2" rx="2.6" ry="2.0" transform="rotate(-66 437.7 836.2)" fill="#1e1418"/><ellipse cx="451.6" cy="804.9" rx="2.6" ry="2.0" transform="rotate(-69 451.6 804.9)" fill="#1e1418"/><ellipse cx="463.2" cy="771.3" rx="2.6" ry="2.0" transform="rotate(-76 463.2 771.3)" fill="#1e1418"/><ellipse cx="452.8" cy="864.0" rx="2.6" ry="2.0" transform="rotate(-72 452.8 864.0)" fill="#1e1418"/><ellipse cx="464.4" cy="831.5" rx="2.6" ry="2.0" transform="rotate(-73 464.4 831.5)" fill="#1e1418"/><ellipse cx="473.7" cy="796.8" rx="2.6" ry="2.0" transform="rotate(-77 473.7 796.8)" fill="#1e1418"/><ellipse cx="480.6" cy="861.7" rx="2.6" ry="2.0" transform="rotate(-78 480.6 861.7)" fill="#1e1418"/><ellipse cx="488.7" cy="826.9" rx="2.6" ry="2.0" transform="rotate(-80 488.7 826.9)" fill="#1e1418"/><ellipse cx="492.9" cy="793.3" rx="2.6" ry="2.0" transform="rotate(-88 492.9 793.3)" fill="#1e1418"/><ellipse cx="491.5" cy="758.5" rx="2.6" ry="2.0" transform="rotate(-99 491.5 758.5)" fill="#1e1418"/><ellipse cx="484.1" cy="736.5" rx="2.6" ry="2.0" transform="rotate(-118 484.1 736.5)" fill="#1e1418"/><ellipse cx="471.3" cy="720.3" rx="2.6" ry="2.0" transform="rotate(-135 471.3 720.3)" fill="#1e1418"/><ellipse cx="507.3" cy="859.4" rx="2.6" ry="2.0" transform="rotate(-82 507.3 859.4)" fill="#1e1418"/><ellipse cx="511.9" cy="825.7" rx="2.6" ry="2.0" transform="rotate(-85 511.9 825.7)" fill="#1e1418"/><ellipse cx="513.1" cy="789.8" rx="2.6" ry="2.0" transform="rotate(-93 513.1 789.8)" fill="#1e1418"/><ellipse cx="508.4" cy="755.0" rx="2.6" ry="2.0" transform="rotate(-99 508.4 755.0)" fill="#1e1418"/><ellipse cx="532.8" cy="859.4" rx="2.6" ry="2.0" transform="rotate(-86 532.8 859.4)" fill="#1e1418"/><ellipse cx="535.1" cy="824.6" rx="2.6" ry="2.0" transform="rotate(-88 535.1 824.6)" fill="#1e1418"/><ellipse cx="535.1" cy="787.5" rx="2.6" ry="2.0" transform="rotate(-95 535.1 787.5)" fill="#1e1418"/><ellipse cx="529.3" cy="753.9" rx="2.6" ry="2.0" transform="rotate(-107 529.3 753.9)" fill="#1e1418"/><ellipse cx="517.7" cy="729.5" rx="2.6" ry="2.0" transform="rotate(-122 517.7 729.5)" fill="#1e1418"/><ellipse cx="361.2" cy="701.7" rx="2.6" ry="2.0" transform="rotate(114 361.2 701.7)" fill="#1e1418"/><ellipse cx="349.6" cy="734.2" rx="2.6" ry="2.0" transform="rotate(106 349.6 734.2)" fill="#1e1418"/><ellipse cx="346.2" cy="755.0" rx="2.6" ry="2.0" transform="rotate(81 346.2 755.0)" fill="#1e1418"/><ellipse cx="354.3" cy="764.3" rx="2.6" ry="2.0" transform="rotate(19 354.3 764.3)" fill="#1e1418"/><ellipse cx="386.7" cy="768.9" rx="2.6" ry="2.0" transform="rotate(-6 386.7 768.9)" fill="#1e1418"/><ellipse cx="419.2" cy="757.4" rx="2.6" ry="2.0" transform="rotate(-22 419.2 757.4)" fill="#1e1418"/><ellipse cx="394.8" cy="726.1" rx="2.6" ry="2.0" transform="rotate(32 394.8 726.1)" fill="#1e1418"/><ellipse cx="412.2" cy="728.4" rx="2.6" ry="2.0" transform="rotate(-2 412.2 728.4)" fill="#1e1418"/><ellipse cx="421.5" cy="689.0" rx="2.6" ry="2.0" transform="rotate(6 421.5 689.0)" fill="#1e1418"/><ellipse cx="559.7" cy="858.1" rx="2.6" ry="2.0" transform="rotate(-89 559.7 858.1)" fill="#1e1418"/><ellipse cx="560.0" cy="822.9" rx="2.6" ry="2.0" transform="rotate(-90 560.0 822.9)" fill="#1e1418"/><ellipse cx="560.0" cy="787.7" rx="2.6" ry="2.0" transform="rotate(-92 560.0 787.7)" fill="#1e1418"/><ellipse cx="557.9" cy="752.5" rx="2.6" ry="2.0" transform="rotate(-96 557.9 752.5)" fill="#1e1418"/><ellipse cx="553.8" cy="729.5" rx="2.6" ry="2.0" transform="rotate(-106 553.8 729.5)" fill="#1e1418"/><ellipse cx="581.7" cy="858.1" rx="2.6" ry="2.0" transform="rotate(-91 581.7 858.1)" fill="#1e1418"/><ellipse cx="581.4" cy="822.9" rx="2.6" ry="2.0" transform="rotate(-90 581.4 822.9)" fill="#1e1418"/><ellipse cx="581.4" cy="787.7" rx="2.6" ry="2.0" transform="rotate(-89 581.4 787.7)" fill="#1e1418"/><ellipse cx="582.2" cy="752.5" rx="2.6" ry="2.0" transform="rotate(-85 582.2 752.5)" fill="#1e1418"/><ellipse cx="586.3" cy="728.1" rx="2.6" ry="2.0" transform="rotate(-74 586.3 728.1)" fill="#1e1418"/><ellipse cx="607.0" cy="859.4" rx="2.6" ry="2.0" transform="rotate(-94 607.0 859.4)" fill="#1e1418"/><ellipse cx="605.1" cy="823.4" rx="2.6" ry="2.0" transform="rotate(-91 605.1 823.4)" fill="#1e1418"/><ellipse cx="605.8" cy="788.7" rx="2.6" ry="2.0" transform="rotate(-85 605.8 788.7)" fill="#1e1418"/><ellipse cx="611.1" cy="753.9" rx="2.6" ry="2.0" transform="rotate(-71 611.1 753.9)" fill="#1e1418"/><ellipse cx="627.8" cy="723.7" rx="2.6" ry="2.0" transform="rotate(-57 627.8 723.7)" fill="#1e1418"/><ellipse cx="632.5" cy="859.4" rx="2.6" ry="2.0" transform="rotate(-98 632.5 859.4)" fill="#1e1418"/><ellipse cx="628.3" cy="824.6" rx="2.6" ry="2.0" transform="rotate(-94 628.3 824.6)" fill="#1e1418"/><ellipse cx="627.8" cy="789.8" rx="2.6" ry="2.0" transform="rotate(-87 627.8 789.8)" fill="#1e1418"/><ellipse cx="632.5" cy="755.0" rx="2.6" ry="2.0" transform="rotate(-80 632.5 755.0)" fill="#1e1418"/><ellipse cx="659.1" cy="861.7" rx="2.6" ry="2.0" transform="rotate(-102 659.1 861.7)" fill="#1e1418"/><ellipse cx="652.2" cy="826.9" rx="2.6" ry="2.0" transform="rotate(-99 652.2 826.9)" fill="#1e1418"/><ellipse cx="647.5" cy="792.1" rx="2.6" ry="2.0" transform="rotate(-93 647.5 792.1)" fill="#1e1418"/><ellipse cx="648.7" cy="757.4" rx="2.6" ry="2.0" transform="rotate(-81 648.7 757.4)" fill="#1e1418"/><ellipse cx="656.8" cy="731.9" rx="2.6" ry="2.0" transform="rotate(-63 656.8 731.9)" fill="#1e1418"/><ellipse cx="686.9" cy="864.0" rx="2.6" ry="2.0" transform="rotate(-108 686.9 864.0)" fill="#1e1418"/><ellipse cx="676.5" cy="831.5" rx="2.6" ry="2.0" transform="rotate(-106 676.5 831.5)" fill="#1e1418"/><ellipse cx="667.2" cy="796.8" rx="2.6" ry="2.0" transform="rotate(-103 667.2 796.8)" fill="#1e1418"/><ellipse cx="718.2" cy="867.5" rx="2.6" ry="2.0" transform="rotate(-113 718.2 867.5)" fill="#1e1418"/><ellipse cx="704.3" cy="837.3" rx="2.6" ry="2.0" transform="rotate(-115 704.3 837.3)" fill="#1e1418"/><ellipse cx="689.2" cy="804.9" rx="2.6" ry="2.0" transform="rotate(-111 689.2 804.9)" fill="#1e1418"/><ellipse cx="678.8" cy="771.3" rx="2.6" ry="2.0" transform="rotate(-105 678.8 771.3)" fill="#1e1418"/><ellipse cx="751.8" cy="869.8" rx="2.6" ry="2.0" transform="rotate(-118 751.8 869.8)" fill="#1e1418"/><ellipse cx="734.4" cy="839.6" rx="2.6" ry="2.0" transform="rotate(-122 734.4 839.6)" fill="#1e1418"/><ellipse cx="715.9" cy="811.8" rx="2.6" ry="2.0" transform="rotate(-124 715.9 811.8)" fill="#1e1418"/><ellipse cx="790.8" cy="871.6" rx="2.6" ry="2.0" transform="rotate(-118 790.8 871.6)" fill="#1e1418"/><ellipse cx="774.5" cy="841.8" rx="2.6" ry="2.0" transform="rotate(-125 774.5 841.8)" fill="#1e1418"/><ellipse cx="752.9" cy="816.9" rx="2.6" ry="2.0" transform="rotate(-133 752.9 816.9)" fill="#1e1418"/><ellipse cx="728.5" cy="793.1" rx="2.6" ry="2.0" transform="rotate(-134 728.5 793.1)" fill="#1e1418"/><ellipse cx="704.1" cy="766.0" rx="2.6" ry="2.0" transform="rotate(-133 704.1 766.0)" fill="#1e1418"/><ellipse cx="703.2" cy="765.5" rx="2.6" ry="2.0" transform="rotate(-117 703.2 765.5)" fill="#1e1418"/><ellipse cx="689.2" cy="736.5" rx="2.6" ry="2.0" transform="rotate(-106 689.2 736.5)" fill="#1e1418"/><ellipse cx="753.0" cy="767.8" rx="2.6" ry="2.0" transform="rotate(7 753.0 767.8)" fill="#1e1418"/><ellipse cx="785.4" cy="765.5" rx="2.6" ry="2.0" transform="rotate(-20 785.4 765.5)" fill="#1e1418"/><ellipse cx="793.6" cy="752.7" rx="2.6" ry="2.0" transform="rotate(-82 793.6 752.7)" fill="#1e1418"/><ellipse cx="790.1" cy="734.2" rx="2.6" ry="2.0" transform="rotate(-107 790.1 734.2)" fill="#1e1418"/><ellipse cx="777.3" cy="700.6" rx="2.6" ry="2.0" transform="rotate(-113 777.3 700.6)" fill="#1e1418"/><ellipse cx="729.8" cy="738.8" rx="2.6" ry="2.0" transform="rotate(7 729.8 738.8)" fill="#1e1418"/><ellipse cx="750.7" cy="736.5" rx="2.6" ry="2.0" transform="rotate(-28 750.7 736.5)" fill="#1e1418"/><ellipse cx="729.8" cy="712.2" rx="2.6" ry="2.0" transform="rotate(-11 729.8 712.2)" fill="#1e1418"/><ellipse cx="813.8" cy="812.1" rx="2.6" ry="2.0" transform="rotate(58 813.8 812.1)" fill="#1e1418"/><ellipse cx="828.7" cy="843.2" rx="2.6" ry="2.0" transform="rotate(64 828.7 843.2)" fill="#1e1418"/><ellipse cx="843.6" cy="874.3" rx="2.6" ry="2.0" transform="rotate(64 843.6 874.3)" fill="#1e1418"/><ellipse cx="830.6" cy="778.2" rx="2.6" ry="2.0" transform="rotate(96 830.6 778.2)" fill="#1e1418"/><ellipse cx="831.4" cy="801.2" rx="2.6" ry="2.0" transform="rotate(80 831.4 801.2)" fill="#1e1418"/><ellipse cx="836.8" cy="812.1" rx="2.6" ry="2.0" transform="rotate(68 836.8 812.1)" fill="#1e1418"/><ellipse cx="849.0" cy="844.5" rx="2.6" ry="2.0" transform="rotate(68 849.0 844.5)" fill="#1e1418"/><ellipse cx="862.5" cy="874.3" rx="2.6" ry="2.0" transform="rotate(65 862.5 874.3)" fill="#1e1418"/><ellipse cx="879.6" cy="691.6" rx="2.6" ry="2.0" transform="rotate(103 879.6 691.6)" fill="#1e1418"/><ellipse cx="870.7" cy="726.8" rx="2.6" ry="2.0" transform="rotate(103 870.7 726.8)" fill="#1e1418"/><ellipse cx="863.1" cy="760.6" rx="2.6" ry="2.0" transform="rotate(96 863.1 760.6)" fill="#1e1418"/><ellipse cx="863.9" cy="794.5" rx="2.6" ry="2.0" transform="rotate(81 863.9 794.5)" fill="#1e1418"/><ellipse cx="873.4" cy="828.3" rx="2.6" ry="2.0" transform="rotate(70 873.4 828.3)" fill="#1e1418"/><ellipse cx="888.3" cy="860.8" rx="2.6" ry="2.0" transform="rotate(64 888.3 860.8)" fill="#1e1418"/><ellipse cx="888.3" cy="748.4" rx="2.6" ry="2.0" transform="rotate(84 888.3 748.4)" fill="#1e1418"/><ellipse cx="893.7" cy="782.3" rx="2.6" ry="2.0" transform="rotate(75 893.7 782.3)" fill="#1e1418"/><ellipse cx="905.9" cy="816.1" rx="2.6" ry="2.0" transform="rotate(66 905.9 816.1)" fill="#1e1418"/><ellipse cx="922.1" cy="847.3" rx="2.6" ry="2.0" transform="rotate(60 922.1 847.3)" fill="#1e1418"/><ellipse cx="941.1" cy="877.0" rx="2.6" ry="2.0" transform="rotate(57 941.1 877.0)" fill="#1e1418"/><ellipse cx="901.8" cy="717.3" rx="2.6" ry="2.0" transform="rotate(75 901.8 717.3)" fill="#1e1418"/><ellipse cx="909.9" cy="749.8" rx="2.6" ry="2.0" transform="rotate(72 909.9 749.8)" fill="#1e1418"/><ellipse cx="923.5" cy="782.3" rx="2.6" ry="2.0" transform="rotate(63 923.5 782.3)" fill="#1e1418"/><ellipse cx="941.1" cy="812.1" rx="2.6" ry="2.0" transform="rotate(58 941.1 812.1)" fill="#1e1418"/><ellipse cx="918.0" cy="705.1" rx="2.6" ry="2.0" transform="rotate(57 918.0 705.1)" fill="#1e1418"/><ellipse cx="938.4" cy="734.9" rx="2.6" ry="2.0" transform="rotate(54 938.4 734.9)" fill="#1e1418"/><ellipse cx="934.3" cy="688.8" rx="2.6" ry="2.0" transform="rotate(36 934.3 688.8)" fill="#1e1418"/><ellipse cx="777.2" cy="701.0" rx="2.6" ry="2.0" transform="rotate(67 777.2 701.0)" fill="#1e1418"/><ellipse cx="789.4" cy="733.5" rx="2.6" ry="2.0" transform="rotate(71 789.4 733.5)" fill="#1e1418"/><ellipse cx="813.8" cy="676.7" rx="2.6" ry="2.0" transform="rotate(-12 813.8 676.7)" fill="#1e1418"/><ellipse cx="821.9" cy="703.7" rx="2.6" ry="2.0" transform="rotate(-9 821.9 703.7)" fill="#1e1418"/><ellipse cx="853.1" cy="688.8" rx="2.6" ry="2.0" transform="rotate(-31 853.1 688.8)" fill="#1e1418"/><ellipse cx="836.8" cy="734.9" rx="2.6" ry="2.0" transform="rotate(-36 836.8 734.9)" fill="#1e1418"/><ellipse cx="201.2" cy="947.5" rx="1.6" ry="2.2" fill="#6a4a56"/><ellipse cx="231.7" cy="957.0" rx="1.6" ry="2.2" fill="#6a4a56"/><ellipse cx="254.0" cy="957.0" rx="1.6" ry="2.2" fill="#6a4a56"/><ellipse cx="308.8" cy="957.0" rx="1.6" ry="2.2" fill="#6a4a56"/><ellipse cx="349.5" cy="957.0" rx="1.6" ry="2.2" fill="#6a4a56"/><ellipse cx="387.4" cy="957.0" rx="1.6" ry="2.2" fill="#6a4a56"/><ellipse cx="424.6" cy="957.0" rx="1.6" ry="2.2" fill="#6a4a56"/><ellipse cx="458.3" cy="957.0" rx="1.6" ry="2.2" fill="#6a4a56"/><ellipse cx="492.9" cy="957.0" rx="1.6" ry="2.2" fill="#6a4a56"/><ellipse cx="524.0" cy="957.0" rx="1.6" ry="2.2" fill="#6a4a56"/><ellipse cx="557.2" cy="957.0" rx="1.6" ry="2.2" fill="#6a4a56"/><ellipse cx="583.6" cy="957.0" rx="1.6" ry="2.2" fill="#6a4a56"/><ellipse cx="616.1" cy="957.0" rx="1.6" ry="2.2" fill="#6a4a56"/><ellipse cx="649.2" cy="957.0" rx="1.6" ry="2.2" fill="#6a4a56"/><ellipse cx="682.4" cy="957.0" rx="1.6" ry="2.2" fill="#6a4a56"/><ellipse cx="716.3" cy="957.0" rx="1.6" ry="2.2" fill="#6a4a56"/><ellipse cx="754.2" cy="957.0" rx="1.6" ry="2.2" fill="#6a4a56"/><ellipse cx="791.5" cy="957.0" rx="1.6" ry="2.2" fill="#6a4a56"/><ellipse cx="831.4" cy="957.0" rx="1.6" ry="2.2" fill="#6a4a56"/><ellipse cx="886.2" cy="957.0" rx="1.6" ry="2.2" fill="#6a4a56"/><ellipse cx="908.6" cy="957.0" rx="1.6" ry="2.2" fill="#6a4a56"/><ellipse cx="939.7" cy="947.5" rx="1.6" ry="2.2" fill="#6a4a56"/><ellipse cx="224.5" cy="399.7" rx="8.3" ry="4.0" fill="#2f48a2" stroke="#16235c" stroke-width="1.2"/><ellipse cx="242.4" cy="401.7" rx="8.3" ry="4.0" fill="#2f48a2" stroke="#16235c" stroke-width="1.2"/><ellipse cx="268.0" cy="400.5" rx="8.3" ry="4.0" fill="#2f48a2" stroke="#16235c" stroke-width="1.2"/><ellipse cx="294.5" cy="399.8" rx="8.3" ry="4.0" fill="#2f48a2" stroke="#16235c" stroke-width="1.2"/><ellipse cx="317.7" cy="397.0" rx="8.3" ry="4.0" fill="#2f48a2" stroke="#16235c" stroke-width="1.2"/><ellipse cx="343.0" cy="396.0" rx="8.3" ry="4.0" fill="#2f48a2" stroke="#16235c" stroke-width="1.2"/><ellipse cx="360.0" cy="400.5" rx="8.3" ry="4.0" fill="#2f48a2" stroke="#16235c" stroke-width="1.2"/><ellipse cx="386.4" cy="399.0" rx="8.3" ry="4.0" fill="#2f48a2" stroke="#16235c" stroke-width="1.2"/><ellipse cx="412.0" cy="398.6" rx="8.3" ry="4.0" fill="#2f48a2" stroke="#16235c" stroke-width="1.2"/><ellipse cx="434.0" cy="396.6" rx="8.3" ry="4.0" fill="#2f48a2" stroke="#16235c" stroke-width="1.2"/><ellipse cx="454.0" cy="395.0" rx="8.3" ry="4.0" fill="#2f48a2" stroke="#16235c" stroke-width="1.2"/><ellipse cx="478.8" cy="401.5" rx="8.3" ry="4.0" fill="#2f48a2" stroke="#16235c" stroke-width="1.2"/><ellipse cx="503.0" cy="396.5" rx="8.3" ry="4.0" fill="#2f48a2" stroke="#16235c" stroke-width="1.2"/><ellipse cx="530.0" cy="393.4" rx="8.3" ry="4.0" fill="#2f48a2" stroke="#16235c" stroke-width="1.2"/><ellipse cx="548.5" cy="400.7" rx="8.3" ry="4.0" fill="#2f48a2" stroke="#16235c" stroke-width="1.2"/><ellipse cx="570.3" cy="398.6" rx="8.3" ry="4.0" fill="#2f48a2" stroke="#16235c" stroke-width="1.2"/><ellipse cx="594.5" cy="395.0" rx="8.3" ry="4.0" fill="#2f48a2" stroke="#16235c" stroke-width="1.2"/><ellipse cx="596.0" cy="402.3" rx="8.3" ry="4.0" fill="#2f48a2" stroke="#16235c" stroke-width="1.2"/><ellipse cx="615.7" cy="397.9" rx="8.3" ry="4.0" fill="#2f48a2" stroke="#16235c" stroke-width="1.2"/><ellipse cx="623.4" cy="399.8" rx="8.3" ry="4.0" fill="#2f48a2" stroke="#16235c" stroke-width="1.2"/><ellipse cx="644.0" cy="395.0" rx="8.3" ry="4.0" fill="#2f48a2" stroke="#16235c" stroke-width="1.2"/><ellipse cx="646.0" cy="402.5" rx="8.3" ry="4.0" fill="#2f48a2" stroke="#16235c" stroke-width="1.2"/><ellipse cx="666.0" cy="395.5" rx="8.3" ry="4.0" fill="#2f48a2" stroke="#16235c" stroke-width="1.2"/><ellipse cx="676.7" cy="403.6" rx="8.3" ry="4.0" fill="#2f48a2" stroke="#16235c" stroke-width="1.2"/><ellipse cx="681.5" cy="392.6" rx="8.3" ry="4.0" fill="#2f48a2" stroke="#16235c" stroke-width="1.2"/><ellipse cx="693.0" cy="400.7" rx="8.3" ry="4.0" fill="#2f48a2" stroke="#16235c" stroke-width="1.2"/><ellipse cx="702.8" cy="394.5" rx="8.3" ry="4.0" fill="#2f48a2" stroke="#16235c" stroke-width="1.2"/><ellipse cx="714.0" cy="402.0" rx="8.3" ry="4.0" fill="#2f48a2" stroke="#16235c" stroke-width="1.2"/><ellipse cx="719.8" cy="394.0" rx="8.3" ry="4.0" fill="#2f48a2" stroke="#16235c" stroke-width="1.2"/><ellipse cx="733.0" cy="401.8" rx="8.3" ry="4.0" fill="#2f48a2" stroke="#16235c" stroke-width="1.2"/><ellipse cx="738.0" cy="396.0" rx="8.3" ry="4.0" fill="#2f48a2" stroke="#16235c" stroke-width="1.2"/><ellipse cx="747.0" cy="401.8" rx="8.3" ry="4.0" fill="#2f48a2" stroke="#16235c" stroke-width="1.2"/><ellipse cx="753.4" cy="394.0" rx="8.3" ry="4.0" fill="#2f48a2" stroke="#16235c" stroke-width="1.2"/><ellipse cx="764.0" cy="401.8" rx="8.3" ry="4.0" fill="#2f48a2" stroke="#16235c" stroke-width="1.2"/><ellipse cx="778.5" cy="394.0" rx="8.3" ry="4.0" fill="#2f48a2" stroke="#16235c" stroke-width="1.2"/><ellipse cx="788.0" cy="401.8" rx="8.3" ry="4.0" fill="#2f48a2" stroke="#16235c" stroke-width="1.2"/><ellipse cx="795.2" cy="394.0" rx="8.3" ry="4.0" fill="#2f48a2" stroke="#16235c" stroke-width="1.2"/><ellipse cx="799.0" cy="401.8" rx="8.3" ry="4.0" fill="#2f48a2" stroke="#16235c" stroke-width="1.2"/><ellipse cx="813.4" cy="398.0" rx="8.3" ry="4.0" fill="#2f48a2" stroke="#16235c" stroke-width="1.2"/><ellipse cx="812.6" cy="402.0" rx="8.3" ry="4.0" fill="#2f48a2" stroke="#16235c" stroke-width="1.2"/><ellipse cx="832.0" cy="391.5" rx="8.3" ry="4.0" fill="#2f48a2" stroke="#16235c" stroke-width="1.2"/><ellipse cx="828.5" cy="402.3" rx="8.3" ry="4.0" fill="#2f48a2" stroke="#16235c" stroke-width="1.2"/><ellipse cx="841.0" cy="401.8" rx="8.3" ry="4.0" fill="#2f48a2" stroke="#16235c" stroke-width="1.2"/><ellipse cx="855.5" cy="398.9" rx="8.3" ry="4.0" fill="#2f48a2" stroke="#16235c" stroke-width="1.2"/><ellipse cx="866.4" cy="393.0" rx="8.3" ry="4.0" fill="#2f48a2" stroke="#16235c" stroke-width="1.2"/><ellipse cx="867.8" cy="405.4" rx="8.3" ry="4.0" fill="#2f48a2" stroke="#16235c" stroke-width="1.2"/><ellipse cx="883.0" cy="400.3" rx="8.3" ry="4.0" fill="#2f48a2" stroke="#16235c" stroke-width="1.2"/><ellipse cx="887.4" cy="392.3" rx="8.3" ry="4.0" fill="#2f48a2" stroke="#16235c" stroke-width="1.2"/><ellipse cx="894.7" cy="405.4" rx="8.3" ry="4.0" fill="#2f48a2" stroke="#16235c" stroke-width="1.2"/><ellipse cx="904.8" cy="396.7" rx="8.3" ry="4.0" fill="#2f48a2" stroke="#16235c" stroke-width="1.2"/><ellipse cx="914.3" cy="403.2" rx="8.3" ry="4.0" fill="#2f48a2" stroke="#16235c" stroke-width="1.2"/><ellipse cx="931.0" cy="395.2" rx="8.3" ry="4.0" fill="#2f48a2" stroke="#16235c" stroke-width="1.2"/><ellipse cx="946.0" cy="396.7" rx="8.3" ry="4.0" fill="#2f48a2" stroke="#16235c" stroke-width="1.2"/><ellipse cx="960.7" cy="396.0" rx="8.3" ry="4.0" fill="#2f48a2" stroke="#16235c" stroke-width="1.2"/><ellipse cx="254.0" cy="910.0" rx="8.3" ry="4.0" fill="#2f48a2" stroke="#16235c" stroke-width="1.2"/><ellipse cx="271.0" cy="906.0" rx="8.3" ry="4.0" fill="#2f48a2" stroke="#16235c" stroke-width="1.2"/><ellipse cx="278.6" cy="916.5" rx="8.3" ry="4.0" fill="#2f48a2" stroke="#16235c" stroke-width="1.2"/><ellipse cx="296.0" cy="908.6" rx="8.3" ry="4.0" fill="#2f48a2" stroke="#16235c" stroke-width="1.2"/><ellipse cx="320.7" cy="908.6" rx="8.3" ry="4.0" fill="#2f48a2" stroke="#16235c" stroke-width="1.2"/><ellipse cx="348.3" cy="909.3" rx="8.3" ry="4.0" fill="#2f48a2" stroke="#16235c" stroke-width="1.2"/><ellipse cx="364.0" cy="906.0" rx="8.3" ry="4.0" fill="#2f48a2" stroke="#16235c" stroke-width="1.2"/><ellipse cx="371.4" cy="912.7" rx="8.3" ry="4.0" fill="#2f48a2" stroke="#16235c" stroke-width="1.2"/><ellipse cx="398.0" cy="909.5" rx="8.3" ry="4.0" fill="#2f48a2" stroke="#16235c" stroke-width="1.2"/><ellipse cx="422.7" cy="907.8" rx="8.3" ry="4.0" fill="#2f48a2" stroke="#16235c" stroke-width="1.2"/><ellipse cx="445.0" cy="906.5" rx="8.3" ry="4.0" fill="#2f48a2" stroke="#16235c" stroke-width="1.2"/><ellipse cx="447.0" cy="914.7" rx="8.3" ry="4.0" fill="#2f48a2" stroke="#16235c" stroke-width="1.2"/><ellipse cx="473.4" cy="905.0" rx="8.3" ry="4.0" fill="#2f48a2" stroke="#16235c" stroke-width="1.2"/><ellipse cx="466.7" cy="913.2" rx="8.3" ry="4.0" fill="#2f48a2" stroke="#16235c" stroke-width="1.2"/><ellipse cx="485.0" cy="912.2" rx="8.3" ry="4.0" fill="#2f48a2" stroke="#16235c" stroke-width="1.2"/><ellipse cx="492.0" cy="905.5" rx="8.3" ry="4.0" fill="#2f48a2" stroke="#16235c" stroke-width="1.2"/><ellipse cx="496.6" cy="918.0" rx="8.3" ry="4.0" fill="#2f48a2" stroke="#16235c" stroke-width="1.2"/><ellipse cx="508.0" cy="906.0" rx="8.3" ry="4.0" fill="#2f48a2" stroke="#16235c" stroke-width="1.2"/><ellipse cx="515.0" cy="913.6" rx="8.3" ry="4.0" fill="#2f48a2" stroke="#16235c" stroke-width="1.2"/><ellipse cx="526.7" cy="905.0" rx="8.3" ry="4.0" fill="#2f48a2" stroke="#16235c" stroke-width="1.2"/><ellipse cx="534.0" cy="913.0" rx="8.3" ry="4.0" fill="#2f48a2" stroke="#16235c" stroke-width="1.2"/><ellipse cx="545.0" cy="905.0" rx="8.3" ry="4.0" fill="#2f48a2" stroke="#16235c" stroke-width="1.2"/><ellipse cx="554.5" cy="913.8" rx="8.3" ry="4.0" fill="#2f48a2" stroke="#16235c" stroke-width="1.2"/><ellipse cx="564.0" cy="906.3" rx="8.3" ry="4.0" fill="#2f48a2" stroke="#16235c" stroke-width="1.2"/><ellipse cx="573.5" cy="914.8" rx="8.3" ry="4.0" fill="#2f48a2" stroke="#16235c" stroke-width="1.2"/><ellipse cx="583.0" cy="905.0" rx="8.3" ry="4.0" fill="#2f48a2" stroke="#16235c" stroke-width="1.2"/><ellipse cx="592.5" cy="913.8" rx="8.3" ry="4.0" fill="#2f48a2" stroke="#16235c" stroke-width="1.2"/><ellipse cx="602.0" cy="906.3" rx="8.3" ry="4.0" fill="#2f48a2" stroke="#16235c" stroke-width="1.2"/><ellipse cx="611.5" cy="914.8" rx="8.3" ry="4.0" fill="#2f48a2" stroke="#16235c" stroke-width="1.2"/><ellipse cx="621.0" cy="905.0" rx="8.3" ry="4.0" fill="#2f48a2" stroke="#16235c" stroke-width="1.2"/><ellipse cx="630.5" cy="913.8" rx="8.3" ry="4.0" fill="#2f48a2" stroke="#16235c" stroke-width="1.2"/><ellipse cx="640.0" cy="906.3" rx="8.3" ry="4.0" fill="#2f48a2" stroke="#16235c" stroke-width="1.2"/><ellipse cx="649.5" cy="914.8" rx="8.3" ry="4.0" fill="#2f48a2" stroke="#16235c" stroke-width="1.2"/><ellipse cx="659.0" cy="905.0" rx="8.3" ry="4.0" fill="#2f48a2" stroke="#16235c" stroke-width="1.2"/><ellipse cx="668.5" cy="913.8" rx="8.3" ry="4.0" fill="#2f48a2" stroke="#16235c" stroke-width="1.2"/><ellipse cx="678.0" cy="906.3" rx="8.3" ry="4.0" fill="#2f48a2" stroke="#16235c" stroke-width="1.2"/><ellipse cx="687.5" cy="914.8" rx="8.3" ry="4.0" fill="#2f48a2" stroke="#16235c" stroke-width="1.2"/><ellipse cx="697.0" cy="905.0" rx="8.3" ry="4.0" fill="#2f48a2" stroke="#16235c" stroke-width="1.2"/><ellipse cx="706.5" cy="913.8" rx="8.3" ry="4.0" fill="#2f48a2" stroke="#16235c" stroke-width="1.2"/><ellipse cx="707.0" cy="904.5" rx="8.3" ry="4.0" fill="#2f48a2" stroke="#16235c" stroke-width="1.2"/><ellipse cx="716.4" cy="904.0" rx="8.3" ry="4.0" fill="#2f48a2" stroke="#16235c" stroke-width="1.2"/><ellipse cx="714.5" cy="915.2" rx="8.3" ry="4.0" fill="#2f48a2" stroke="#16235c" stroke-width="1.2"/><ellipse cx="731.4" cy="907.0" rx="8.3" ry="4.0" fill="#2f48a2" stroke="#16235c" stroke-width="1.2"/><ellipse cx="741.6" cy="913.2" rx="8.3" ry="4.0" fill="#2f48a2" stroke="#16235c" stroke-width="1.2"/><ellipse cx="756.6" cy="907.4" rx="8.3" ry="4.0" fill="#2f48a2" stroke="#16235c" stroke-width="1.2"/><ellipse cx="769.0" cy="912.2" rx="8.3" ry="4.0" fill="#2f48a2" stroke="#16235c" stroke-width="1.2"/><ellipse cx="794.7" cy="909.8" rx="8.3" ry="4.0" fill="#2f48a2" stroke="#16235c" stroke-width="1.2"/><ellipse cx="811.7" cy="911.2" rx="8.3" ry="4.0" fill="#2f48a2" stroke="#16235c" stroke-width="1.2"/><ellipse cx="830.0" cy="913.6" rx="8.3" ry="4.0" fill="#2f48a2" stroke="#16235c" stroke-width="1.2"/><ellipse cx="857.2" cy="912.2" rx="8.3" ry="4.0" fill="#2f48a2" stroke="#16235c" stroke-width="1.2"/><ellipse cx="884.7" cy="911.7" rx="8.3" ry="4.0" fill="#2f48a2" stroke="#16235c" stroke-width="1.2"/><ellipse cx="908.4" cy="909.3" rx="8.3" ry="4.0" fill="#2f48a2" stroke="#16235c" stroke-width="1.2"/><ellipse cx="933.6" cy="907.5" rx="8.3" ry="4.0" fill="#2f48a2" stroke="#16235c" stroke-width="1.2"/><rect x="257" y="133.3" width="627" height="19.899999999999977" fill="#8b9193" stroke="#3a3d3f" stroke-width="1.6"/><rect x="542.8" y="134.2" width="68.2" height="17.6" fill="#ffffff"/><text x="541.6" y="150.2" font-family="'Liberation Sans', sans-serif" font-weight="bold" font-size="17.5" fill="#111" textLength="61.5" lengthAdjust="spacingAndGlyphs">Магнит</text><ellipse cx="573" cy="449.5" rx="102" ry="26" fill="none" stroke="#4a3a40" stroke-width="2"/><rect x="500" y="436" width="149" height="25.5" fill="#ffffff"/><text x="504.5" y="452.8" font-family="'Liberation Sans', sans-serif" font-weight="bold" font-size="16" fill="#111" textLength="136" lengthAdjust="spacingAndGlyphs">Очаг поражения</text><rect x="166" y="133.3" width="807.8" height="360.7" fill="none" stroke="#3a3a3a" stroke-width="2"/><line x1="188.9" y1="494" x2="188.9" y2="488" stroke="#3a3a3a" stroke-width="1.5"/><line x1="188.9" y1="133.3" x2="188.9" y2="139.3" stroke="#3a3a3a" stroke-width="1.5"/><line x1="285.1" y1="494" x2="285.1" y2="488" stroke="#3a3a3a" stroke-width="1.5"/><line x1="285.1" y1="133.3" x2="285.1" y2="139.3" stroke="#3a3a3a" stroke-width="1.5"/><line x1="381.3" y1="494" x2="381.3" y2="488" stroke="#3a3a3a" stroke-width="1.5"/><line x1="381.3" y1="133.3" x2="381.3" y2="139.3" stroke="#3a3a3a" stroke-width="1.5"/><line x1="476.9" y1="494" x2="476.9" y2="488" stroke="#3a3a3a" stroke-width="1.5"/><line x1="476.9" y1="133.3" x2="476.9" y2="139.3" stroke="#3a3a3a" stroke-width="1.5"/><line x1="572.6" y1="494" x2="572.6" y2="488" stroke="#3a3a3a" stroke-width="1.5"/><line x1="669.2" y1="494" x2="669.2" y2="488" stroke="#3a3a3a" stroke-width="1.5"/><line x1="669.2" y1="133.3" x2="669.2" y2="139.3" stroke="#3a3a3a" stroke-width="1.5"/><line x1="764.8" y1="494" x2="764.8" y2="488" stroke="#3a3a3a" stroke-width="1.5"/><line x1="764.8" y1="133.3" x2="764.8" y2="139.3" stroke="#3a3a3a" stroke-width="1.5"/><line x1="860.8" y1="494" x2="860.8" y2="488" stroke="#3a3a3a" stroke-width="1.5"/><line x1="860.8" y1="133.3" x2="860.8" y2="139.3" stroke="#3a3a3a" stroke-width="1.5"/><line x1="954.7" y1="494" x2="954.7" y2="488" stroke="#3a3a3a" stroke-width="1.5"/><line x1="954.7" y1="133.3" x2="954.7" y2="139.3" stroke="#3a3a3a" stroke-width="1.5"/><text x="286.1" y="516" text-anchor="middle" font-family="'Liberation Sans', sans-serif" font-size="19" fill="#333">6</text><text x="382.3" y="516" text-anchor="middle" font-family="'Liberation Sans', sans-serif" font-size="19" fill="#333">4</text><text x="477.9" y="516" text-anchor="middle" font-family="'Liberation Sans', sans-serif" font-size="19" fill="#333">2</text><text x="573.6" y="516" text-anchor="middle" font-family="'Liberation Sans', sans-serif" font-size="19" fill="#333">0</text><text x="670.2" y="516" text-anchor="middle" font-family="'Liberation Sans', sans-serif" font-size="19" fill="#333">2</text><text x="765.8" y="516" text-anchor="middle" font-family="'Liberation Sans', sans-serif" font-size="19" fill="#333">4</text><text x="861.8" y="516" text-anchor="middle" font-family="'Liberation Sans', sans-serif" font-size="19" fill="#333">6</text><line x1="166" y1="153.2" x2="172" y2="153.2" stroke="#3a3a3a" stroke-width="1.5"/><line x1="973.8" y1="153.2" x2="967.8" y2="153.2" stroke="#3a3a3a" stroke-width="1.5"/><text x="152.8" y="152.4" text-anchor="middle" font-family="'Liberation Sans', sans-serif" font-size="19" fill="#333">0</text><line x1="166" y1="212.29999999999998" x2="172" y2="212.29999999999998" stroke="#3a3a3a" stroke-width="1.5"/><line x1="973.8" y1="212.29999999999998" x2="967.8" y2="212.29999999999998" stroke="#3a3a3a" stroke-width="1.5"/><text x="152.8" y="207.3" text-anchor="middle" font-family="'Liberation Sans', sans-serif" font-size="19" fill="#333">1</text><line x1="166" y1="271.4" x2="172" y2="271.4" stroke="#3a3a3a" stroke-width="1.5"/><line x1="973.8" y1="271.4" x2="967.8" y2="271.4" stroke="#3a3a3a" stroke-width="1.5"/><text x="152.8" y="268.2" text-anchor="middle" font-family="'Liberation Sans', sans-serif" font-size="19" fill="#333">2</text><line x1="166" y1="330.5" x2="172" y2="330.5" stroke="#3a3a3a" stroke-width="1.5"/><line x1="973.8" y1="330.5" x2="967.8" y2="330.5" stroke="#3a3a3a" stroke-width="1.5"/><text x="152.8" y="327.8" text-anchor="middle" font-family="'Liberation Sans', sans-serif" font-size="19" fill="#333">3</text><line x1="166" y1="389.6" x2="172" y2="389.6" stroke="#3a3a3a" stroke-width="1.5"/><line x1="973.8" y1="389.6" x2="967.8" y2="389.6" stroke="#3a3a3a" stroke-width="1.5"/><text x="152.8" y="387.40000000000003" text-anchor="middle" font-family="'Liberation Sans', sans-serif" font-size="19" fill="#333">4</text><line x1="166" y1="448.7" x2="172" y2="448.7" stroke="#3a3a3a" stroke-width="1.5"/><line x1="973.8" y1="448.7" x2="967.8" y2="448.7" stroke="#3a3a3a" stroke-width="1.5"/><text x="152.8" y="446.6" text-anchor="middle" font-family="'Liberation Sans', sans-serif" font-size="19" fill="#333">5</text><text transform="translate(117.9,448) rotate(-90)" x="0" y="0" font-family="'Liberation Sans', sans-serif" font-weight="bold" font-size="35" fill="#111" textLength="254" lengthAdjust="spacingAndGlyphs">Дистанция, мм</text><text x="100" y="105" font-family="'Liberation Serif', serif" font-style="italic" font-size="45" fill="#161a2a">a</text><path d="M166.5 73 V118.5 H208" fill="none" stroke="#111" stroke-width="2.2"/><path d="M164.0 99.75 L166.5 87.75 L169.0 99.75 Z" fill="#111"/><path d="M189.325 116.0 L201.325 118.5 L189.325 121.0 Z" fill="#111"/><text x="173.5" y="85" font-family="'Liberation Sans', sans-serif" font-size="10" fill="#333">z</text><text x="209" y="117.5" font-family="'Liberation Sans', sans-serif" font-size="10" fill="#333">x</text><text x="148.2" y="520" font-family="'Liberation Sans', sans-serif" font-weight="bold" font-size="17" fill="#1a1a1a" textLength="101.5" lengthAdjust="spacingAndGlyphs">Краниально</text><text x="896" y="522" font-family="'Liberation Sans', sans-serif" font-weight="bold" font-size="17" fill="#1a1a1a" textLength="91.5" lengthAdjust="spacingAndGlyphs">Каудально</text><path d="M1000 135.6 L1008.6 190.1 H1004.4 V297.0 H1008.6 L1000 351.5 L991.4 297.0 H995.6 V190.1 H991.4 Z" fill="#fff" stroke="#808080" stroke-width="1.3"/><path d="M1000 359.8 L1008.6 395.3 H1004.4 V465.5 H1008.6 L1000 501 L991.4 465.5 H995.6 V395.3 H991.4 Z" fill="#fff" stroke="#808080" stroke-width="1.3"/><path d="M257 645 H884 V665.6 H689 V714 H452 V665.6 H257 Z" fill="#8b9193" stroke="#3a3d3f" stroke-width="1.6"/><rect x="542.5" y="685.5" width="70" height="22" fill="#ffffff"/><text x="547" y="702" font-family="'Liberation Sans', sans-serif" font-weight="bold" font-size="17" fill="#111" textLength="57" lengthAdjust="spacingAndGlyphs">Магнит</text><ellipse cx="574.8" cy="960.4" rx="102" ry="24.4" fill="none" stroke="#4a3a40" stroke-width="2"/><rect x="501" y="951" width="149" height="23" fill="#ffffff"/><text x="505.5" y="966.4" font-family="'Liberation Sans', sans-serif" font-weight="bold" font-size="16" fill="#111" textLength="136" lengthAdjust="spacingAndGlyphs">Очаг поражения</text><rect x="167" y="645" width="808" height="360.20000000000005" fill="none" stroke="#3a3a3a" stroke-width="2.4"/><line x1="190.3" y1="1005.2" x2="190.3" y2="999.2" stroke="#3a3a3a" stroke-width="1.5"/><line x1="190.3" y1="645" x2="190.3" y2="651" stroke="#3a3a3a" stroke-width="1.5"/><line x1="286.5" y1="1005.2" x2="286.5" y2="999.2" stroke="#3a3a3a" stroke-width="1.5"/><line x1="286.5" y1="645" x2="286.5" y2="651" stroke="#3a3a3a" stroke-width="1.5"/><line x1="382.7" y1="1005.2" x2="382.7" y2="999.2" stroke="#3a3a3a" stroke-width="1.5"/><line x1="382.7" y1="645" x2="382.7" y2="651" stroke="#3a3a3a" stroke-width="1.5"/><line x1="478.29999999999995" y1="1005.2" x2="478.29999999999995" y2="999.2" stroke="#3a3a3a" stroke-width="1.5"/><line x1="478.29999999999995" y1="645" x2="478.29999999999995" y2="651" stroke="#3a3a3a" stroke-width="1.5"/><line x1="574.0" y1="1005.2" x2="574.0" y2="999.2" stroke="#3a3a3a" stroke-width="1.5"/><line x1="574.0" y1="645" x2="574.0" y2="651" stroke="#3a3a3a" stroke-width="1.5"/><line x1="670.6" y1="1005.2" x2="670.6" y2="999.2" stroke="#3a3a3a" stroke-width="1.5"/><line x1="670.6" y1="645" x2="670.6" y2="651" stroke="#3a3a3a" stroke-width="1.5"/><line x1="766.1999999999999" y1="1005.2" x2="766.1999999999999" y2="999.2" stroke="#3a3a3a" stroke-width="1.5"/><line x1="766.1999999999999" y1="645" x2="766.1999999999999" y2="651" stroke="#3a3a3a" stroke-width="1.5"/><line x1="862.1999999999999" y1="1005.2" x2="862.1999999999999" y2="999.2" stroke="#3a3a3a" stroke-width="1.5"/><line x1="862.1999999999999" y1="645" x2="862.1999999999999" y2="651" stroke="#3a3a3a" stroke-width="1.5"/><line x1="956.1" y1="1005.2" x2="956.1" y2="999.2" stroke="#3a3a3a" stroke-width="1.5"/><line x1="956.1" y1="645" x2="956.1" y2="651" stroke="#3a3a3a" stroke-width="1.5"/><text x="287.5" y="1027.5" text-anchor="middle" font-family="'Liberation Sans', sans-serif" font-size="19" fill="#333">6</text><text x="383.7" y="1027.5" text-anchor="middle" font-family="'Liberation Sans', sans-serif" font-size="19" fill="#333">4</text><text x="479.29999999999995" y="1027.5" text-anchor="middle" font-family="'Liberation Sans', sans-serif" font-size="19" fill="#333">2</text><text x="575.0" y="1027.5" text-anchor="middle" font-family="'Liberation Sans', sans-serif" font-size="19" fill="#333">0</text><text x="671.6" y="1027.5" text-anchor="middle" font-family="'Liberation Sans', sans-serif" font-size="19" fill="#333">2</text><text x="767.1999999999999" y="1027.5" text-anchor="middle" font-family="'Liberation Sans', sans-serif" font-size="19" fill="#333">4</text><text x="863.1999999999999" y="1027.5" text-anchor="middle" font-family="'Liberation Sans', sans-serif" font-size="19" fill="#333">6</text><line x1="167" y1="665.6" x2="173" y2="665.6" stroke="#3a3a3a" stroke-width="1.5"/><line x1="975" y1="665.6" x2="969" y2="665.6" stroke="#3a3a3a" stroke-width="1.5"/><text x="155" y="664.8" text-anchor="middle" font-family="'Liberation Sans', sans-serif" font-size="19" fill="#333">0</text><line x1="167" y1="724.8000000000001" x2="173" y2="724.8000000000001" stroke="#3a3a3a" stroke-width="1.5"/><line x1="975" y1="724.8000000000001" x2="969" y2="724.8000000000001" stroke="#3a3a3a" stroke-width="1.5"/><text x="155" y="719.8" text-anchor="middle" font-family="'Liberation Sans', sans-serif" font-size="19" fill="#333">1</text><line x1="167" y1="784.0" x2="173" y2="784.0" stroke="#3a3a3a" stroke-width="1.5"/><line x1="975" y1="784.0" x2="969" y2="784.0" stroke="#3a3a3a" stroke-width="1.5"/><text x="155" y="780.0" text-anchor="middle" font-family="'Liberation Sans', sans-serif" font-size="19" fill="#333">2</text><line x1="167" y1="843.2" x2="173" y2="843.2" stroke="#3a3a3a" stroke-width="1.5"/><line x1="975" y1="843.2" x2="969" y2="843.2" stroke="#3a3a3a" stroke-width="1.5"/><text x="155" y="839.0999999999999" text-anchor="middle" font-family="'Liberation Sans', sans-serif" font-size="19" fill="#333">3</text><line x1="167" y1="902.4000000000001" x2="173" y2="902.4000000000001" stroke="#3a3a3a" stroke-width="1.5"/><line x1="975" y1="902.4000000000001" x2="969" y2="902.4000000000001" stroke="#3a3a3a" stroke-width="1.5"/><text x="155" y="900.0" text-anchor="middle" font-family="'Liberation Sans', sans-serif" font-size="19" fill="#333">4</text><line x1="167" y1="961.6" x2="173" y2="961.6" stroke="#3a3a3a" stroke-width="1.5"/><line x1="975" y1="961.6" x2="969" y2="961.6" stroke="#3a3a3a" stroke-width="1.5"/><text x="155" y="959.4" text-anchor="middle" font-family="'Liberation Sans', sans-serif" font-size="19" fill="#333">5</text><text transform="translate(121.9,962) rotate(-90)" x="0" y="0" font-family="'Liberation Sans', sans-serif" font-weight="bold" font-size="35" fill="#111" textLength="256" lengthAdjust="spacingAndGlyphs">Дистанция, мм</text><text x="100.5" y="619" font-family="'Liberation Serif', serif" font-style="italic" font-size="42" fill="#161a2a">б</text><path d="M167.8 584.5 V630 H212" fill="none" stroke="#111" stroke-width="2.2"/><path d="M165.3 611.25 L167.8 599.25 L170.3 611.25 Z" fill="#111"/><path d="M192.11 627.5 L204.11 630 L192.11 632.5 Z" fill="#111"/><text x="174.8" y="596.5" font-family="'Liberation Sans', sans-serif" font-size="10" fill="#333">z</text><text x="213" y="629" font-family="'Liberation Sans', sans-serif" font-size="10" fill="#333">x</text><text x="149.8" y="1025.8" font-family="'Liberation Sans', sans-serif" font-weight="bold" font-size="17" fill="#1a1a1a" textLength="101.5" lengthAdjust="spacingAndGlyphs">Краниально</text><text x="897.6" y="1027.3" font-family="'Liberation Sans', sans-serif" font-weight="bold" font-size="17" fill="#1a1a1a" textLength="91.5" lengthAdjust="spacingAndGlyphs">Каудально</text><path d="M995.5 647.7 L1004.8 700.7 H1000.3 V810 H1004.8 L995.5 863 L986.2 810 H990.7 V700.7 H986.2 Z" fill="#fff" stroke="#808080" stroke-width="1.3"/><path d="M995.5 872 L1004.8 907.5 H1000.3 V976.5 H1004.8 L995.5 1012 L986.2 976.5 H990.7 V907.5 H986.2 Z" fill="#fff" stroke="#808080" stroke-width="1.3"/><rect x="1017.5" y="932.5" width="1.6" height="7.5" fill="#444"/><rect x="1017.5" y="997" width="1.6" height="7.5" fill="#444"/><text x="466" y="551" font-family="'Liberation Sans', sans-serif" font-weight="bold" font-size="26" fill="#111" textLength="204" lengthAdjust="spacingAndGlyphs">Дистанция, мм</text><path d="M141 541.5 L191.6 533.4 V537 H240.2 V545.7 H191.6 V549.5 Z" fill="#fff" stroke="#5a5a5a" stroke-width="1.5"/><path d="M994.8 543.4 L946.6 536.1 V539 H901.2 V547.3 H946.6 V551 Z" fill="#fff" stroke="#5a5a5a" stroke-width="1.5"/></svg></body></html>
